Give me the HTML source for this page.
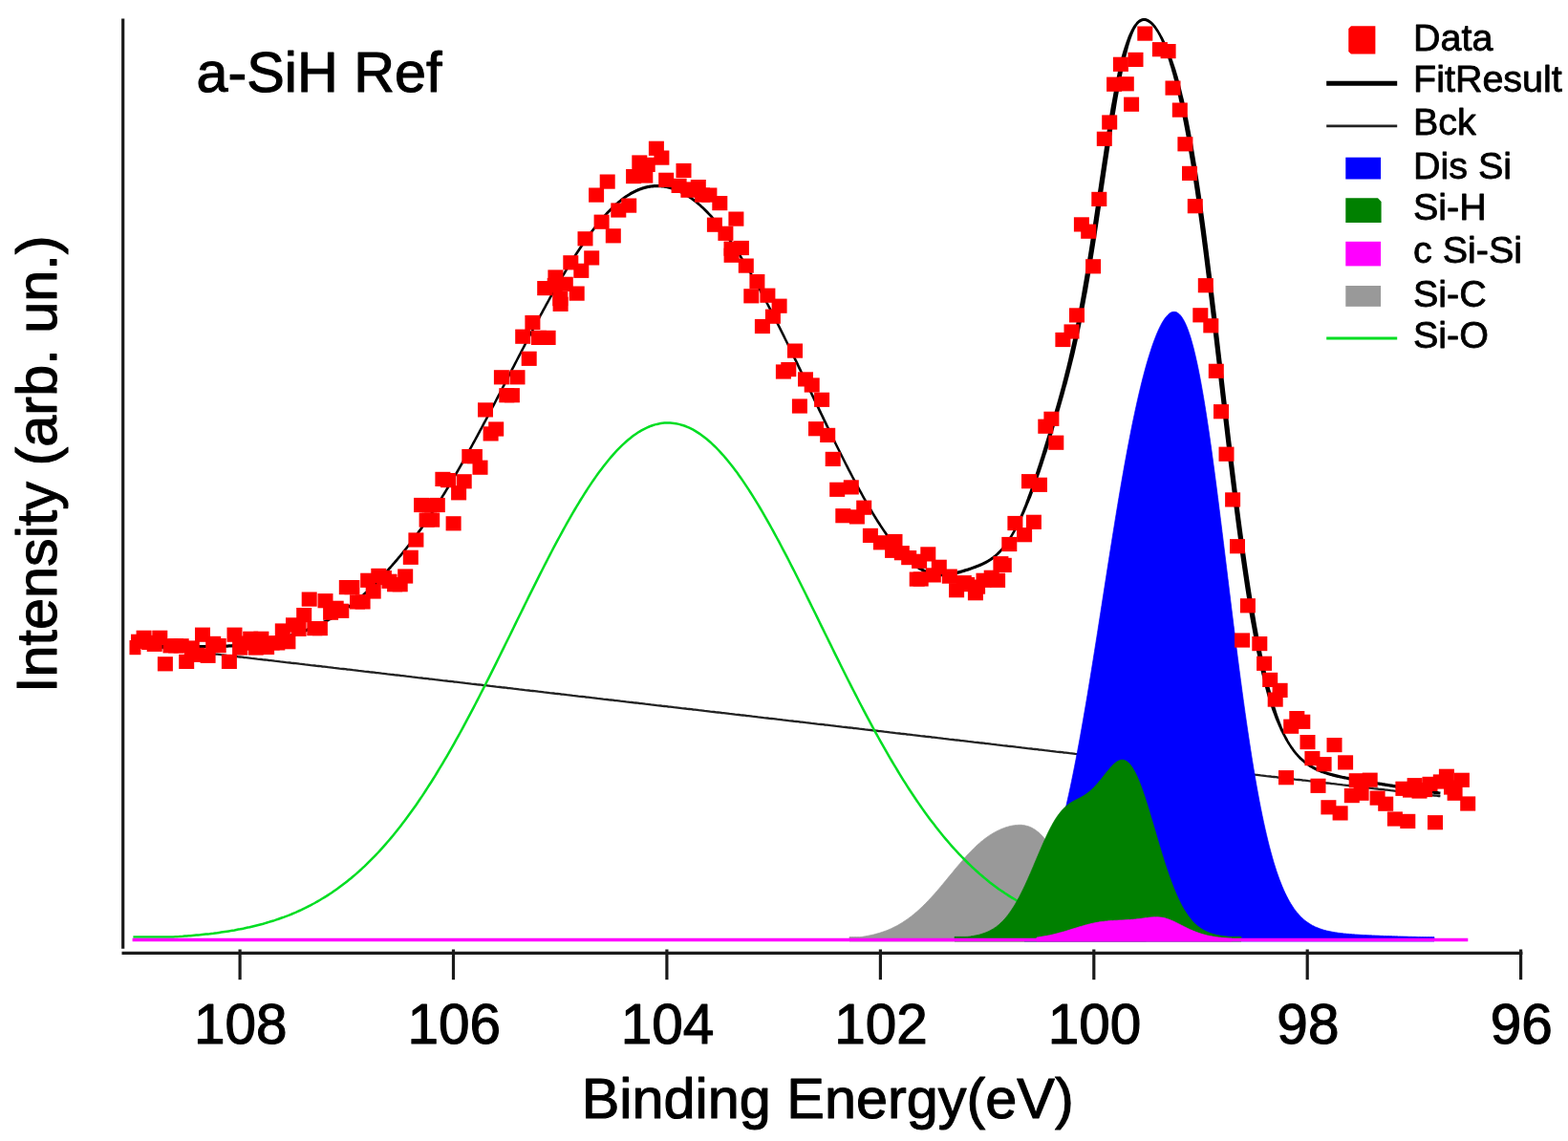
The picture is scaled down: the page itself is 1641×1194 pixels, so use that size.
<!DOCTYPE html>
<html lang="en"><head><meta charset="utf-8"><title>a-SiH Ref</title>
<style>
html,body{margin:0;padding:0;background:#fff;}
body{width:1641px;height:1194px;overflow:hidden;font-family:"Liberation Sans",Arial,sans-serif;}
svg{display:block;}
</style></head><body>
<svg width="1641" height="1194" viewBox="0 0 1641 1194">
<rect width="1641" height="1194" fill="#fff"/>
<path d="M139.4,674.5 L141.4,674.7 L143.4,675.0 L145.4,675.2 L147.4,675.4 L149.4,675.7 L151.4,675.9 L153.4,676.1 L155.4,676.4 L157.4,676.6 L159.4,676.8 L161.4,677.0 L163.4,677.3 L165.4,677.5 L167.4,677.7 L169.4,678.0 L171.4,678.2 L173.4,678.4 L175.4,678.7 L177.4,678.9 L179.4,679.1 L181.4,679.4 L183.4,679.6 L185.4,679.8 L187.4,680.1 L189.4,680.3 L191.4,680.5 L193.4,680.8 L195.4,681.0 L197.4,681.2 L199.4,681.5 L201.4,681.7 L203.4,681.9 L205.4,682.2 L207.4,682.4 L209.4,682.6 L211.4,682.8 L213.4,683.1 L215.4,683.3 L217.4,683.5 L219.4,683.8 L221.4,684.0 L223.4,684.2 L225.4,684.5 L227.4,684.7 L229.4,684.9 L231.4,685.2 L233.4,685.4 L235.4,685.6 L237.4,685.9 L239.4,686.1 L241.4,686.3 L243.4,686.6 L245.4,686.8 L247.4,687.0 L249.4,687.3 L251.4,687.5 L253.4,687.7 L255.4,688.0 L257.4,688.2 L259.4,688.4 L261.4,688.6 L263.4,688.9 L265.4,689.1 L267.4,689.3 L269.4,689.6 L271.4,689.8 L273.4,690.0 L275.4,690.3 L277.4,690.5 L279.4,690.7 L281.4,691.0 L283.4,691.2 L285.4,691.4 L287.4,691.7 L289.4,691.9 L291.4,692.1 L293.4,692.4 L295.4,692.6 L297.4,692.8 L299.4,693.1 L301.4,693.3 L303.4,693.5 L305.4,693.8 L307.4,694.0 L309.4,694.2 L311.4,694.4 L313.4,694.7 L315.4,694.9 L317.4,695.1 L319.4,695.4 L321.4,695.6 L323.4,695.8 L325.4,696.1 L327.4,696.3 L329.4,696.5 L331.4,696.8 L333.4,697.0 L335.4,697.2 L337.4,697.5 L339.4,697.7 L341.4,697.9 L343.4,698.2 L345.4,698.4 L347.4,698.6 L349.4,698.9 L351.4,699.1 L353.4,699.3 L355.4,699.6 L357.4,699.8 L359.4,700.0 L361.4,700.2 L363.4,700.5 L365.4,700.7 L367.4,700.9 L369.4,701.2 L371.4,701.4 L373.4,701.6 L375.4,701.9 L377.4,702.1 L379.4,702.3 L381.4,702.6 L383.4,702.8 L385.4,703.0 L387.4,703.3 L389.4,703.5 L391.4,703.7 L393.4,704.0 L395.4,704.2 L397.4,704.4 L399.4,704.7 L401.4,704.9 L403.4,705.1 L405.4,705.4 L407.4,705.6 L409.4,705.8 L411.4,706.0 L413.4,706.3 L415.4,706.5 L417.4,706.7 L419.4,707.0 L421.4,707.2 L423.4,707.4 L425.4,707.7 L427.4,707.9 L429.4,708.1 L431.4,708.4 L433.4,708.6 L435.4,708.8 L437.4,709.1 L439.4,709.3 L441.4,709.5 L443.4,709.8 L445.4,710.0 L447.4,710.2 L449.4,710.5 L451.4,710.7 L453.4,710.9 L455.4,711.2 L457.4,711.4 L459.4,711.6 L461.4,711.8 L463.4,712.1 L465.4,712.3 L467.4,712.5 L469.4,712.8 L471.4,713.0 L473.4,713.2 L475.4,713.5 L477.4,713.7 L479.4,713.9 L481.4,714.2 L483.4,714.4 L485.4,714.6 L487.4,714.9 L489.4,715.1 L491.4,715.3 L493.4,715.6 L495.4,715.8 L497.4,716.0 L499.4,716.3 L501.4,716.5 L503.4,716.7 L505.4,717.0 L507.4,717.2 L509.4,717.4 L511.4,717.6 L513.4,717.9 L515.4,718.1 L517.4,718.3 L519.4,718.6 L521.4,718.8 L523.4,719.0 L525.4,719.3 L527.4,719.5 L529.4,719.7 L531.4,720.0 L533.4,720.2 L535.4,720.4 L537.4,720.7 L539.4,720.9 L541.4,721.1 L543.4,721.4 L545.4,721.6 L547.4,721.8 L549.4,722.1 L551.4,722.3 L553.4,722.5 L555.4,722.8 L557.4,723.0 L559.4,723.2 L561.4,723.4 L563.4,723.7 L565.4,723.9 L567.4,724.1 L569.4,724.4 L571.4,724.6 L573.4,724.8 L575.4,725.1 L577.4,725.3 L579.4,725.5 L581.4,725.8 L583.4,726.0 L585.4,726.2 L587.4,726.5 L589.4,726.7 L591.4,726.9 L593.4,727.2 L595.4,727.4 L597.4,727.6 L599.4,727.9 L601.4,728.1 L603.4,728.3 L605.4,728.6 L607.4,728.8 L609.4,729.0 L611.4,729.2 L613.4,729.5 L615.4,729.7 L617.4,729.9 L619.4,730.2 L621.4,730.4 L623.4,730.6 L625.4,730.9 L627.4,731.1 L629.4,731.3 L631.4,731.6 L633.4,731.8 L635.4,732.0 L637.4,732.3 L639.4,732.5 L641.4,732.7 L643.4,733.0 L645.4,733.2 L647.4,733.4 L649.4,733.7 L651.4,733.9 L653.4,734.1 L655.4,734.4 L657.4,734.6 L659.4,734.8 L661.4,735.0 L663.4,735.3 L665.4,735.5 L667.4,735.7 L669.4,736.0 L671.4,736.2 L673.4,736.4 L675.4,736.7 L677.4,736.9 L679.4,737.1 L681.4,737.4 L683.4,737.6 L685.4,737.8 L687.4,738.1 L689.4,738.3 L691.4,738.5 L693.4,738.8 L695.4,739.0 L697.4,739.2 L699.4,739.5 L701.4,739.7 L703.4,739.9 L705.4,740.2 L707.4,740.4 L709.4,740.6 L711.4,740.8 L713.4,741.1 L715.4,741.3 L717.4,741.5 L719.4,741.8 L721.4,742.0 L723.4,742.2 L725.4,742.5 L727.4,742.7 L729.4,742.9 L731.4,743.2 L733.4,743.4 L735.4,743.6 L737.4,743.9 L739.4,744.1 L741.4,744.3 L743.4,744.6 L745.4,744.8 L747.4,745.0 L749.4,745.3 L751.4,745.5 L753.4,745.7 L755.4,746.0 L757.4,746.2 L759.4,746.4 L761.4,746.6 L763.4,746.9 L765.4,747.1 L767.4,747.3 L769.4,747.6 L771.4,747.8 L773.4,748.0 L775.4,748.3 L777.4,748.5 L779.4,748.7 L781.4,749.0 L783.4,749.2 L785.4,749.4 L787.4,749.7 L789.4,749.9 L791.4,750.1 L793.4,750.4 L795.4,750.6 L797.4,750.8 L799.4,751.1 L801.4,751.3 L803.4,751.5 L805.4,751.8 L807.4,752.0 L809.4,752.2 L811.4,752.4 L813.4,752.7 L815.4,752.9 L817.4,753.1 L819.4,753.4 L821.4,753.6 L823.4,753.8 L825.4,754.1 L827.4,754.3 L829.4,754.5 L831.4,754.8 L833.4,755.0 L835.4,755.2 L837.4,755.5 L839.4,755.7 L841.4,755.9 L843.4,756.2 L845.4,756.4 L847.4,756.6 L849.4,756.9 L851.4,757.1 L853.4,757.3 L855.4,757.6 L857.4,757.8 L859.4,758.0 L861.4,758.2 L863.4,758.5 L865.4,758.7 L867.4,758.9 L869.4,759.2 L871.4,759.4 L873.4,759.6 L875.4,759.9 L877.4,760.1 L879.4,760.3 L881.4,760.6 L883.4,760.8 L885.4,761.0 L887.4,761.3 L889.4,761.5 L891.4,761.7 L893.4,762.0 L895.4,762.2 L897.4,762.4 L899.4,762.7 L901.4,762.9 L903.4,763.1 L905.4,763.4 L907.4,763.6 L909.4,763.8 L911.4,764.0 L913.4,764.3 L915.4,764.5 L917.4,764.7 L919.4,765.0 L921.4,765.2 L923.4,765.4 L925.4,765.7 L927.4,765.9 L929.4,766.1 L931.4,766.4 L933.4,766.6 L935.4,766.8 L937.4,767.1 L939.4,767.3 L941.4,767.5 L943.4,767.8 L945.4,768.0 L947.4,768.2 L949.4,768.5 L951.4,768.7 L953.4,768.9 L955.4,769.2 L957.4,769.4 L959.4,769.6 L961.4,769.8 L963.4,770.1 L965.4,770.3 L967.4,770.5 L969.4,770.8 L971.4,771.0 L973.4,771.2 L975.4,771.5 L977.4,771.7 L979.4,771.9 L981.4,772.2 L983.4,772.4 L985.4,772.6 L987.4,772.9 L989.4,773.1 L991.4,773.3 L993.4,773.6 L995.4,773.8 L997.4,774.0 L999.4,774.3 L1001.4,774.5 L1003.4,774.7 L1005.4,775.0 L1007.4,775.2 L1009.4,775.4 L1011.4,775.6 L1013.4,775.9 L1015.4,776.1 L1017.4,776.3 L1019.4,776.6 L1021.4,776.8 L1023.4,777.0 L1025.4,777.3 L1027.4,777.5 L1029.4,777.7 L1031.4,778.0 L1033.4,778.2 L1035.4,778.4 L1037.4,778.7 L1039.4,778.9 L1041.4,779.1 L1043.4,779.4 L1045.4,779.6 L1047.4,779.8 L1049.4,780.1 L1051.4,780.3 L1053.4,780.5 L1055.4,780.8 L1057.4,781.0 L1059.4,781.2 L1061.4,781.4 L1063.4,781.7 L1065.4,781.9 L1067.4,782.1 L1069.4,782.4 L1071.4,782.6 L1073.4,782.8 L1075.4,783.1 L1077.4,783.3 L1079.4,783.5 L1081.4,783.8 L1083.4,784.0 L1085.4,784.2 L1087.4,784.5 L1089.4,784.7 L1091.4,784.9 L1093.4,785.2 L1095.4,785.4 L1097.4,785.6 L1099.4,785.9 L1101.4,786.1 L1103.4,786.3 L1105.4,786.6 L1107.4,786.8 L1109.4,787.0 L1111.4,787.2 L1113.4,787.5 L1115.4,787.7 L1117.4,787.9 L1119.4,788.2 L1121.4,788.4 L1123.4,788.6 L1125.4,788.9 L1127.4,789.1 L1129.4,789.3 L1131.4,789.6 L1133.4,789.8 L1135.4,790.0 L1137.4,790.3 L1139.4,790.5 L1141.4,790.7 L1143.4,791.0 L1145.4,791.2 L1147.4,791.4 L1149.4,791.7 L1151.4,791.9 L1153.4,792.1 L1155.4,792.4 L1157.4,792.6 L1159.4,792.8 L1161.4,793.0 L1163.4,793.3 L1165.4,793.5 L1167.4,793.7 L1169.4,794.0 L1171.4,794.2 L1173.4,794.4 L1175.4,794.7 L1177.4,794.9 L1179.4,795.1 L1181.4,795.4 L1183.4,795.6 L1185.4,795.8 L1187.4,796.1 L1189.4,796.3 L1191.4,796.5 L1193.4,796.8 L1195.4,797.0 L1197.4,797.2 L1199.4,797.5 L1201.4,797.7 L1203.4,797.9 L1205.4,798.2 L1207.4,798.4 L1209.4,798.6 L1211.4,798.8 L1213.4,799.1 L1215.4,799.3 L1217.4,799.5 L1219.4,799.8 L1221.4,800.0 L1223.4,800.2 L1225.4,800.5 L1227.4,800.7 L1229.4,800.9 L1231.4,801.2 L1233.4,801.4 L1235.4,801.6 L1237.4,801.9 L1239.4,802.1 L1241.4,802.3 L1243.4,802.6 L1245.4,802.8 L1247.4,803.0 L1249.4,803.3 L1251.4,803.5 L1253.4,803.7 L1255.4,804.0 L1257.4,804.2 L1259.4,804.4 L1261.4,804.6 L1263.4,804.9 L1265.4,805.1 L1267.4,805.3 L1269.4,805.6 L1271.4,805.8 L1273.4,806.0 L1275.4,806.3 L1277.4,806.5 L1279.4,806.7 L1281.4,807.0 L1283.4,807.2 L1285.4,807.4 L1287.4,807.7 L1289.4,807.9 L1291.4,808.1 L1293.4,808.4 L1295.4,808.6 L1297.4,808.8 L1299.4,809.1 L1301.4,809.3 L1303.4,809.5 L1305.4,809.8 L1307.4,810.0 L1309.4,810.2 L1311.4,810.4 L1313.4,810.7 L1315.4,810.9 L1317.4,811.1 L1319.4,811.4 L1321.4,811.6 L1323.4,811.8 L1325.4,812.1 L1327.4,812.3 L1329.4,812.5 L1331.4,812.8 L1333.4,813.0 L1335.4,813.2 L1337.4,813.5 L1339.4,813.7 L1341.4,813.9 L1343.4,814.2 L1345.4,814.4 L1347.4,814.6 L1349.4,814.9 L1351.4,815.1 L1353.4,815.3 L1355.4,815.6 L1357.4,815.8 L1359.4,816.0 L1361.4,816.2 L1363.4,816.5 L1365.4,816.7 L1367.4,816.9 L1369.4,817.2 L1371.4,817.4 L1373.4,817.6 L1375.4,817.9 L1377.4,818.1 L1379.4,818.3 L1381.4,818.6 L1383.4,818.8 L1385.4,819.0 L1387.4,819.3 L1389.4,819.5 L1391.4,819.7 L1393.4,820.0 L1395.4,820.2 L1397.4,820.4 L1399.4,820.7 L1401.4,820.9 L1403.4,821.1 L1405.4,821.4 L1407.4,821.6 L1409.4,821.8 L1411.4,822.0 L1413.4,822.3 L1415.4,822.5 L1417.4,822.7 L1419.4,823.0 L1421.4,823.2 L1423.4,823.4 L1425.4,823.7 L1427.4,823.9 L1429.4,824.1 L1431.4,824.4 L1433.4,824.6 L1435.4,824.8 L1437.4,825.1 L1439.4,825.3 L1441.4,825.5 L1443.4,825.8 L1445.4,826.0 L1447.4,826.2 L1449.4,826.5 L1451.4,826.7 L1453.4,826.9 L1455.4,827.2 L1457.4,827.4 L1459.4,827.6 L1461.4,827.8 L1463.4,828.1 L1465.4,828.3 L1467.4,828.5 L1469.4,828.8 L1471.4,829.0 L1473.4,829.2 L1475.4,829.5 L1477.4,829.7 L1479.4,829.9 L1481.4,830.2 L1483.4,830.4 L1485.4,830.6 L1487.4,830.9 L1489.4,831.1 L1491.4,831.3 L1493.4,831.6 L1495.4,831.8 L1497.4,832.0 L1499.4,832.3 L1501.4,832.5 L1503.4,832.7 L1505.4,833.0 L1507.4,833.2" fill="none" stroke="#222" stroke-width="2.3"/>
<path d="M889.0,980.6 L890.5,980.6 L892.0,980.6 L893.5,980.6 L895.0,980.6 L896.5,980.6 L898.0,980.6 L899.5,980.6 L901.0,980.5 L902.5,980.3 L904.0,980.0 L905.5,979.8 L907.0,979.5 L908.5,979.2 L910.0,978.9 L911.5,978.6 L913.0,978.3 L914.5,977.9 L916.0,977.5 L917.5,977.1 L919.0,976.7 L920.5,976.3 L922.0,975.8 L923.5,975.3 L925.0,974.8 L926.5,974.2 L928.0,973.7 L929.5,973.1 L931.0,972.4 L932.5,971.8 L934.0,971.1 L935.5,970.3 L937.0,969.6 L938.5,968.8 L940.0,968.0 L941.5,967.1 L943.0,966.2 L944.5,965.3 L946.0,964.3 L947.5,963.3 L949.0,962.3 L950.5,961.2 L952.0,960.1 L953.5,959.0 L955.0,957.8 L956.5,956.6 L958.0,955.3 L959.5,954.0 L961.0,952.7 L962.5,951.3 L964.0,949.9 L965.5,948.5 L967.0,947.0 L968.5,945.5 L970.0,944.0 L971.5,942.4 L973.0,940.8 L974.5,939.2 L976.0,937.6 L977.5,935.9 L979.0,934.2 L980.5,932.5 L982.0,930.7 L983.5,929.0 L985.0,927.2 L986.5,925.4 L988.0,923.6 L989.5,921.8 L991.0,920.0 L992.5,918.1 L994.0,916.3 L995.5,914.5 L997.0,912.7 L998.5,910.8 L1000.0,909.0 L1001.5,907.2 L1003.0,905.4 L1004.5,903.7 L1006.0,901.9 L1007.5,900.2 L1009.0,898.5 L1010.5,896.8 L1012.0,895.1 L1013.5,893.5 L1015.0,891.9 L1016.5,890.4 L1018.0,888.9 L1019.5,887.4 L1021.0,885.9 L1022.5,884.5 L1024.0,883.2 L1025.5,881.9 L1027.0,880.6 L1028.5,879.4 L1030.0,878.2 L1031.5,877.1 L1033.0,876.0 L1034.5,874.9 L1036.0,873.9 L1037.5,873.0 L1039.0,872.1 L1040.5,871.2 L1042.0,870.4 L1043.5,869.6 L1045.0,868.9 L1046.5,868.2 L1048.0,867.5 L1049.5,866.9 L1051.0,866.4 L1052.5,865.8 L1054.0,865.4 L1055.5,864.9 L1057.0,864.5 L1058.5,864.2 L1060.0,863.9 L1061.5,863.7 L1063.0,863.5 L1064.5,863.4 L1066.0,863.3 L1067.5,863.3 L1069.0,863.3 L1070.5,863.5 L1072.0,863.7 L1073.5,864.0 L1075.0,864.4 L1076.5,864.8 L1078.0,865.4 L1079.5,866.1 L1081.0,866.9 L1082.5,867.7 L1084.0,868.8 L1085.5,869.9 L1087.0,871.1 L1088.5,872.5 L1090.0,874.0 L1091.5,875.6 L1093.0,877.4 L1094.5,879.2 L1096.0,881.2 L1097.5,883.3 L1099.0,885.5 L1100.5,887.8 L1102.0,890.2 L1103.5,892.6 L1105.0,895.2 L1106.5,897.8 L1108.0,900.4 L1109.5,903.1 L1111.0,905.7 L1112.5,908.4 L1114.0,911.2 L1115.5,913.9 L1117.0,916.6 L1118.5,919.2 L1120.0,921.9 L1121.5,924.5 L1123.0,927.1 L1124.5,929.6 L1126.0,932.0 L1127.5,934.4 L1129.0,936.8 L1130.5,939.0 L1132.0,941.2 L1133.5,943.4 L1135.0,945.4 L1136.5,947.4 L1138.0,949.3 L1139.5,951.1 L1141.0,952.9 L1142.5,954.5 L1144.0,956.1 L1145.5,957.7 L1147.0,959.1 L1148.5,960.5 L1150.0,961.8 L1151.5,963.1 L1153.0,964.3 L1154.5,965.4 L1156.0,966.4 L1157.5,967.4 L1159.0,968.4 L1160.5,969.3 L1162.0,970.2 L1163.5,971.0 L1165.0,971.7 L1166.5,972.4 L1168.0,973.1 L1169.5,973.8 L1171.0,974.4 L1172.5,974.9 L1174.0,975.5 L1175.5,976.0 L1177.0,976.4 L1178.5,976.9 L1180.0,977.3 L1181.5,977.7 L1183.0,978.1 L1184.5,978.4 L1186.0,978.8 L1187.5,979.1 L1189.0,979.4 L1190.5,979.6 L1192.0,979.9 L1193.5,980.1 L1195.0,980.4 L1196.5,980.6 L1198.0,980.6 L1199.5,980.6 L1199.5,985.0 L889.0,985.0 Z" fill="#999999" stroke="#999999" stroke-width="0.7" stroke-linejoin="round"/>
<path d="M139.4,980.4 L141.4,980.4 L143.4,980.4 L145.4,980.4 L147.4,980.4 L149.4,980.4 L151.4,980.4 L153.4,980.4 L155.4,980.4 L157.4,980.4 L159.4,980.4 L161.4,980.4 L163.4,980.4 L165.4,980.4 L167.4,980.4 L169.4,980.4 L171.4,980.4 L173.4,980.4 L175.4,980.4 L177.4,980.4 L179.4,980.4 L181.4,980.4 L183.4,980.3 L185.4,980.2 L187.4,980.1 L189.4,979.9 L191.4,979.8 L193.4,979.6 L195.4,979.5 L197.4,979.3 L199.4,979.2 L201.4,979.0 L203.4,978.8 L205.4,978.6 L207.4,978.4 L209.4,978.3 L211.4,978.0 L213.4,977.8 L215.4,977.6 L217.4,977.4 L219.4,977.2 L221.4,976.9 L223.4,976.7 L225.4,976.4 L227.4,976.2 L229.4,975.9 L231.4,975.6 L233.4,975.3 L235.4,975.0 L237.4,974.7 L239.4,974.4 L241.4,974.1 L243.4,973.7 L245.4,973.4 L247.4,973.0 L249.4,972.6 L251.4,972.3 L253.4,971.9 L255.4,971.5 L257.4,971.0 L259.4,970.6 L261.4,970.2 L263.4,969.7 L265.4,969.2 L267.4,968.7 L269.4,968.2 L271.4,967.7 L273.4,967.2 L275.4,966.7 L277.4,966.1 L279.4,965.5 L281.4,964.9 L283.4,964.3 L285.4,963.7 L287.4,963.1 L289.4,962.4 L291.4,961.7 L293.4,961.0 L295.4,960.3 L297.4,959.6 L299.4,958.8 L301.4,958.1 L303.4,957.3 L305.4,956.5 L307.4,955.6 L309.4,954.8 L311.4,953.9 L313.4,953.0 L315.4,952.1 L317.4,951.1 L319.4,950.2 L321.4,949.2 L323.4,948.1 L325.4,947.1 L327.4,946.0 L329.4,945.0 L331.4,943.8 L333.4,942.7 L335.4,941.5 L337.4,940.3 L339.4,939.1 L341.4,937.9 L343.4,936.6 L345.4,935.3 L347.4,934.0 L349.4,932.6 L351.4,931.2 L353.4,929.8 L355.4,928.3 L357.4,926.8 L359.4,925.3 L361.4,923.8 L363.4,922.2 L365.4,920.6 L367.4,919.0 L369.4,917.3 L371.4,915.6 L373.4,913.9 L375.4,912.1 L377.4,910.3 L379.4,908.4 L381.4,906.6 L383.4,904.7 L385.4,902.7 L387.4,900.7 L389.4,898.7 L391.4,896.7 L393.4,894.6 L395.4,892.5 L397.4,890.3 L399.4,888.1 L401.4,885.9 L403.4,883.6 L405.4,881.3 L407.4,879.0 L409.4,876.6 L411.4,874.2 L413.4,871.8 L415.4,869.3 L417.4,866.8 L419.4,864.2 L421.4,861.6 L423.4,859.0 L425.4,856.3 L427.4,853.6 L429.4,850.8 L431.4,848.0 L433.4,845.2 L435.4,842.4 L437.4,839.5 L439.4,836.5 L441.4,833.6 L443.4,830.6 L445.4,827.5 L447.4,824.4 L449.4,821.3 L451.4,818.2 L453.4,815.0 L455.4,811.8 L457.4,808.5 L459.4,805.2 L461.4,801.9 L463.4,798.6 L465.4,795.2 L467.4,791.8 L469.4,788.3 L471.4,784.8 L473.4,781.3 L475.4,777.8 L477.4,774.2 L479.4,770.6 L481.4,767.0 L483.4,763.3 L485.4,759.6 L487.4,755.9 L489.4,752.2 L491.4,748.4 L493.4,744.6 L495.4,740.8 L497.4,737.0 L499.4,733.1 L501.4,729.2 L503.4,725.3 L505.4,721.4 L507.4,717.5 L509.4,713.5 L511.4,709.6 L513.4,705.6 L515.4,701.6 L517.4,697.6 L519.4,693.6 L521.4,689.5 L523.4,685.5 L525.4,681.4 L527.4,677.4 L529.4,673.3 L531.4,669.2 L533.4,665.2 L535.4,661.1 L537.4,657.0 L539.4,652.9 L541.4,648.8 L543.4,644.8 L545.4,640.7 L547.4,636.6 L549.4,632.5 L551.4,628.5 L553.4,624.4 L555.4,620.4 L557.4,616.4 L559.4,612.4 L561.4,608.4 L563.4,604.4 L565.4,600.4 L567.4,596.5 L569.4,592.5 L571.4,588.6 L573.4,584.7 L575.4,580.9 L577.4,577.0 L579.4,573.2 L581.4,569.4 L583.4,565.7 L585.4,562.0 L587.4,558.3 L589.4,554.6 L591.4,551.0 L593.4,547.4 L595.4,543.9 L597.4,540.4 L599.4,536.9 L601.4,533.5 L603.4,530.1 L605.4,526.8 L607.4,523.5 L609.4,520.3 L611.4,517.1 L613.4,514.0 L615.4,510.9 L617.4,507.9 L619.4,504.9 L621.4,502.0 L623.4,499.1 L625.4,496.3 L627.4,493.6 L629.4,490.9 L631.4,488.3 L633.4,485.7 L635.4,483.2 L637.4,480.8 L639.4,478.4 L641.4,476.1 L643.4,473.9 L645.4,471.7 L647.4,469.6 L649.4,467.6 L651.4,465.7 L653.4,463.8 L655.4,462.0 L657.4,460.3 L659.4,458.7 L661.4,457.1 L663.4,455.6 L665.4,454.2 L667.4,452.8 L669.4,451.6 L671.4,450.4 L673.4,449.3 L675.4,448.3 L677.4,447.4 L679.4,446.5 L681.4,445.7 L683.4,445.0 L685.4,444.4 L687.4,443.9 L689.4,443.5 L691.4,443.1 L693.4,442.8 L695.4,442.6 L697.4,442.5 L699.4,442.5 L701.4,442.6 L703.4,442.7 L705.4,442.9 L707.4,443.2 L709.4,443.6 L711.4,444.1 L713.4,444.7 L715.4,445.3 L717.4,446.0 L719.4,446.8 L721.4,447.7 L723.4,448.7 L725.4,449.7 L727.4,450.9 L729.4,452.1 L731.4,453.4 L733.4,454.7 L735.4,456.2 L737.4,457.7 L739.4,459.3 L741.4,461.0 L743.4,462.7 L745.4,464.6 L747.4,466.5 L749.4,468.4 L751.4,470.5 L753.4,472.6 L755.4,474.8 L757.4,477.0 L759.4,479.4 L761.4,481.7 L763.4,484.2 L765.4,486.7 L767.4,489.3 L769.4,491.9 L771.4,494.6 L773.4,497.4 L775.4,500.2 L777.4,503.1 L779.4,506.1 L781.4,509.1 L783.4,512.1 L785.4,515.2 L787.4,518.4 L789.4,521.6 L791.4,524.8 L793.4,528.1 L795.4,531.5 L797.4,534.9 L799.4,538.3 L801.4,541.8 L803.4,545.3 L805.4,548.9 L807.4,552.5 L809.4,556.1 L811.4,559.8 L813.4,563.5 L815.4,567.2 L817.4,571.0 L819.4,574.8 L821.4,578.6 L823.4,582.4 L825.4,586.3 L827.4,590.2 L829.4,594.1 L831.4,598.0 L833.4,602.0 L835.4,606.0 L837.4,610.0 L839.4,614.0 L841.4,618.0 L843.4,622.0 L845.4,626.1 L847.4,630.1 L849.4,634.2 L851.4,638.2 L853.4,642.3 L855.4,646.4 L857.4,650.5 L859.4,654.6 L861.4,658.6 L863.4,662.7 L865.4,666.8 L867.4,670.9 L869.4,674.9 L871.4,679.0 L873.4,683.1 L875.4,687.1 L877.4,691.1 L879.4,695.2 L881.4,699.2 L883.4,703.2 L885.4,707.2 L887.4,711.2 L889.4,715.1 L891.4,719.1 L893.4,723.0 L895.4,726.9 L897.4,730.8 L899.4,734.7 L901.4,738.5 L903.4,742.3 L905.4,746.1 L907.4,749.9 L909.4,753.7 L911.4,757.4 L913.4,761.1 L915.4,764.8 L917.4,768.4 L919.4,772.0 L921.4,775.6 L923.4,779.2 L925.4,782.7 L927.4,786.2 L929.4,789.7 L931.4,793.1 L933.4,796.5 L935.4,799.9 L937.4,803.2 L939.4,806.5 L941.4,809.8 L943.4,813.1 L945.4,816.3 L947.4,819.4 L949.4,822.6 L951.4,825.7 L953.4,828.7 L955.4,831.8 L957.4,834.8 L959.4,837.7 L961.4,840.6 L963.4,843.5 L965.4,846.4 L967.4,849.2 L969.4,851.9 L971.4,854.7 L973.4,857.4 L975.4,860.0 L977.4,862.6 L979.4,865.2 L981.4,867.8 L983.4,870.3 L985.4,872.8 L987.4,875.2 L989.4,877.6 L991.4,879.9 L993.4,882.3 L995.4,884.6 L997.4,886.8 L999.4,889.0 L1001.4,891.2 L1003.4,893.3 L1005.4,895.4 L1007.4,897.5 L1009.4,899.5 L1011.4,901.5 L1013.4,903.5 L1015.4,905.4 L1017.4,907.3 L1019.4,909.2 L1021.4,911.0 L1023.4,912.8 L1025.4,914.6 L1027.4,916.3 L1029.4,918.0 L1031.4,919.6 L1033.4,921.3 L1035.4,922.9 L1037.4,924.4 L1039.4,925.9 L1041.4,927.4 L1043.4,928.9 L1045.4,930.4 L1047.4,931.8 L1049.4,933.1 L1051.4,934.5 L1053.4,935.8 L1055.4,937.1 L1057.4,938.4 L1059.4,939.6 L1061.4,940.8 L1063.4,942.0 L1065.4,943.2 L1067.4,944.3 L1069.4,945.4 L1071.4,946.5 L1073.4,947.5 L1075.4,948.6 L1077.4,949.6 L1079.4,950.5 L1081.4,951.5 L1083.4,952.4 L1085.4,953.3 L1087.4,954.2 L1089.4,955.1 L1091.4,956.0 L1093.4,956.8 L1095.4,957.6 L1097.4,958.4 L1099.4,959.1" fill="none" stroke="#00dd22" stroke-width="2.5"/>
<path d="M1072.0,954.9 L1073.5,953.2 L1075.0,951.4 L1076.5,949.4 L1078.0,947.4 L1079.5,945.2 L1081.0,942.9 L1082.5,940.5 L1084.0,937.9 L1085.5,935.2 L1087.0,932.4 L1088.5,929.4 L1090.0,926.2 L1091.5,922.9 L1093.0,919.4 L1094.5,915.7 L1096.0,911.9 L1097.5,907.8 L1099.0,903.6 L1100.5,899.3 L1102.0,894.7 L1103.5,889.9 L1105.0,885.0 L1106.5,879.8 L1108.0,874.4 L1109.5,868.9 L1111.0,863.1 L1112.5,857.2 L1114.0,851.0 L1115.5,844.7 L1117.0,838.1 L1118.5,831.4 L1120.0,824.4 L1121.5,817.3 L1123.0,810.0 L1124.5,802.4 L1126.0,794.8 L1127.5,786.9 L1129.0,778.9 L1130.5,770.7 L1132.0,762.3 L1133.5,753.8 L1135.0,745.1 L1136.5,736.4 L1138.0,727.5 L1139.5,718.4 L1141.0,709.3 L1142.5,700.1 L1144.0,690.7 L1145.5,681.3 L1147.0,671.9 L1148.5,662.4 L1150.0,652.8 L1151.5,643.2 L1153.0,633.6 L1154.5,623.9 L1156.0,614.3 L1157.5,604.7 L1159.0,595.1 L1160.5,585.5 L1162.0,576.0 L1163.5,566.6 L1165.0,557.2 L1166.5,547.9 L1168.0,538.7 L1169.5,529.6 L1171.0,520.6 L1172.5,511.8 L1174.0,503.1 L1175.5,494.5 L1177.0,486.1 L1178.5,477.9 L1180.0,469.8 L1181.5,461.9 L1183.0,454.2 L1184.5,446.6 L1186.0,439.3 L1187.5,432.2 L1189.0,425.3 L1190.5,418.5 L1192.0,412.0 L1193.5,405.7 L1195.0,399.6 L1196.5,393.7 L1198.0,388.1 L1199.5,382.6 L1201.0,377.4 L1202.5,372.4 L1204.0,367.7 L1205.5,363.1 L1207.0,358.8 L1208.5,354.8 L1210.0,350.9 L1211.5,347.3 L1213.0,344.0 L1214.5,340.9 L1216.0,338.1 L1217.5,335.6 L1219.0,333.3 L1220.5,331.4 L1222.0,329.7 L1223.5,328.3 L1225.0,327.3 L1226.5,326.6 L1228.0,326.3 L1229.5,326.3 L1231.0,326.6 L1232.5,327.4 L1234.0,328.5 L1235.5,330.1 L1237.0,332.1 L1238.5,334.5 L1240.0,337.3 L1241.5,340.6 L1243.0,344.3 L1244.5,348.5 L1246.0,353.1 L1247.5,358.3 L1249.0,363.8 L1250.5,369.9 L1252.0,376.4 L1253.5,383.3 L1255.0,390.7 L1256.5,398.6 L1258.0,406.9 L1259.5,415.5 L1261.0,424.6 L1262.5,434.1 L1264.0,443.9 L1265.5,454.0 L1267.0,464.5 L1268.5,475.2 L1270.0,486.3 L1271.5,497.5 L1273.0,509.0 L1274.5,520.7 L1276.0,532.5 L1277.5,544.5 L1279.0,556.6 L1280.5,568.7 L1282.0,581.0 L1283.5,593.2 L1285.0,605.5 L1286.5,617.8 L1288.0,630.0 L1289.5,642.1 L1291.0,654.2 L1292.5,666.2 L1294.0,678.0 L1295.5,689.7 L1297.0,701.2 L1298.5,712.6 L1300.0,723.7 L1301.5,734.7 L1303.0,745.4 L1304.5,755.9 L1306.0,766.1 L1307.5,776.1 L1309.0,785.8 L1310.5,795.3 L1312.0,804.4 L1313.5,813.3 L1315.0,821.9 L1316.5,830.2 L1318.0,838.2 L1319.5,845.9 L1321.0,853.3 L1322.5,860.4 L1324.0,867.2 L1325.5,873.7 L1327.0,880.0 L1328.5,885.9 L1330.0,891.6 L1331.5,897.0 L1333.0,902.2 L1334.5,907.0 L1336.0,911.7 L1337.5,916.1 L1339.0,920.2 L1340.5,924.1 L1342.0,927.8 L1343.5,931.3 L1345.0,934.6 L1346.5,937.6 L1348.0,940.5 L1349.5,943.2 L1351.0,945.8 L1352.5,948.1 L1354.0,950.4 L1355.5,952.4 L1357.0,954.4 L1358.5,956.1 L1360.0,957.8 L1361.5,959.4 L1363.0,960.8 L1364.5,962.2 L1366.0,963.4 L1367.5,964.5 L1369.0,965.6 L1370.5,966.6 L1372.0,967.5 L1373.5,968.4 L1375.0,969.1 L1376.5,969.9 L1378.0,970.5 L1379.5,971.1 L1381.0,971.7 L1382.5,972.2 L1384.0,972.7 L1385.5,973.2 L1387.0,973.6 L1388.5,974.0 L1390.0,974.3 L1391.5,974.6 L1393.0,974.9 L1394.5,975.2 L1396.0,975.5 L1397.5,975.7 L1399.0,975.9 L1400.5,976.2 L1402.0,976.4 L1403.5,976.5 L1405.0,976.7 L1406.5,976.9 L1408.0,977.0 L1409.5,977.2 L1411.0,977.3 L1412.5,977.4 L1414.0,977.6 L1415.5,977.7 L1417.0,977.8 L1418.5,977.9 L1420.0,978.0 L1421.5,978.1 L1423.0,978.2 L1424.5,978.3 L1426.0,978.4 L1427.5,978.4 L1429.0,978.5 L1430.5,978.6 L1432.0,978.7 L1433.5,978.7 L1435.0,978.8 L1436.5,978.9 L1438.0,978.9 L1439.5,979.0 L1441.0,979.1 L1442.5,979.1 L1444.0,979.2 L1445.5,979.3 L1447.0,979.3 L1448.5,979.4 L1450.0,979.4 L1451.5,979.5 L1453.0,979.5 L1454.5,979.6 L1456.0,979.6 L1457.5,979.7 L1459.0,979.7 L1460.5,979.8 L1462.0,979.8 L1463.5,979.9 L1465.0,979.9 L1466.5,979.9 L1468.0,980.0 L1469.5,980.0 L1471.0,980.1 L1472.5,980.1 L1474.0,980.2 L1475.5,980.2 L1477.0,980.2 L1478.5,980.3 L1480.0,980.3 L1481.5,980.3 L1483.0,980.4 L1484.5,980.4 L1486.0,980.4 L1487.5,980.5 L1489.0,980.5 L1490.5,980.5 L1492.0,980.6 L1493.5,980.6 L1495.0,980.6 L1496.5,980.6 L1498.0,980.6 L1499.5,980.6 L1501.0,980.6 L1501.0,985.0 L1072.0,985.0 Z" fill="#0000ff" stroke="#0000ff" stroke-width="0.7" stroke-linejoin="round"/>
<path d="M999.0,980.3 L1000.5,980.3 L1002.0,980.3 L1003.5,980.3 L1005.0,980.3 L1006.5,980.3 L1008.0,980.3 L1009.5,980.3 L1011.0,980.3 L1012.5,980.2 L1014.0,980.1 L1015.5,979.9 L1017.0,979.6 L1018.5,979.4 L1020.0,979.1 L1021.5,978.8 L1023.0,978.5 L1024.5,978.2 L1026.0,977.8 L1027.5,977.3 L1029.0,976.8 L1030.5,976.3 L1032.0,975.7 L1033.5,975.1 L1035.0,974.4 L1036.5,973.6 L1038.0,972.8 L1039.5,971.9 L1041.0,970.9 L1042.5,969.9 L1044.0,968.7 L1045.5,967.5 L1047.0,966.1 L1048.5,964.7 L1050.0,963.2 L1051.5,961.5 L1053.0,959.8 L1054.5,957.9 L1056.0,955.9 L1057.5,953.8 L1059.0,951.6 L1060.5,949.3 L1062.0,946.9 L1063.5,944.3 L1065.0,941.6 L1066.5,938.9 L1068.0,936.0 L1069.5,933.0 L1071.0,929.9 L1072.5,926.8 L1074.0,923.5 L1075.5,920.2 L1077.0,916.8 L1078.5,913.4 L1080.0,909.9 L1081.5,906.4 L1083.0,902.8 L1084.5,899.3 L1086.0,895.7 L1087.5,892.2 L1089.0,888.7 L1090.5,885.2 L1092.0,881.8 L1093.5,878.5 L1095.0,875.2 L1096.5,872.1 L1098.0,869.0 L1099.5,866.1 L1101.0,863.3 L1102.5,860.6 L1104.0,858.1 L1105.5,855.7 L1107.0,853.5 L1108.5,851.5 L1110.0,849.6 L1111.5,847.8 L1113.0,846.2 L1114.5,844.8 L1116.0,843.4 L1117.5,842.2 L1119.0,841.1 L1120.5,840.1 L1122.0,839.2 L1123.5,838.3 L1125.0,837.5 L1126.5,836.7 L1128.0,836.0 L1129.5,835.2 L1131.0,834.4 L1132.5,833.5 L1134.0,832.7 L1135.5,831.7 L1137.0,830.7 L1138.5,829.6 L1140.0,828.4 L1141.5,827.1 L1143.0,825.8 L1144.5,824.3 L1146.0,822.8 L1147.5,821.1 L1149.0,819.4 L1150.5,817.6 L1152.0,815.8 L1153.5,813.9 L1155.0,812.0 L1156.5,810.1 L1158.0,808.2 L1159.5,806.4 L1161.0,804.6 L1162.5,802.9 L1164.0,801.2 L1165.5,799.8 L1167.0,798.5 L1168.5,797.3 L1170.0,796.4 L1171.5,795.7 L1173.0,795.3 L1174.5,795.2 L1176.0,795.3 L1177.5,795.8 L1179.0,796.6 L1180.5,797.7 L1182.0,799.1 L1183.5,800.9 L1185.0,803.0 L1186.5,805.5 L1188.0,808.2 L1189.5,811.3 L1191.0,814.6 L1192.5,818.3 L1194.0,822.1 L1195.5,826.2 L1197.0,830.6 L1198.5,835.1 L1200.0,839.7 L1201.5,844.5 L1203.0,849.4 L1204.5,854.4 L1206.0,859.4 L1207.5,864.5 L1209.0,869.6 L1210.5,874.8 L1212.0,879.8 L1213.5,884.9 L1215.0,889.8 L1216.5,894.7 L1218.0,899.5 L1219.5,904.2 L1221.0,908.8 L1222.5,913.2 L1224.0,917.5 L1225.5,921.6 L1227.0,925.6 L1228.5,929.4 L1230.0,933.1 L1231.5,936.6 L1233.0,939.9 L1234.5,943.0 L1236.0,946.0 L1237.5,948.8 L1239.0,951.4 L1240.5,953.8 L1242.0,956.1 L1243.5,958.3 L1245.0,960.3 L1246.5,962.1 L1248.0,963.9 L1249.5,965.4 L1251.0,966.9 L1252.5,968.3 L1254.0,969.5 L1255.5,970.6 L1257.0,971.7 L1258.5,972.6 L1260.0,973.5 L1261.5,974.3 L1263.0,975.0 L1264.5,975.6 L1266.0,976.2 L1267.5,976.7 L1269.0,977.2 L1270.5,977.6 L1272.0,978.0 L1273.5,978.4 L1275.0,978.7 L1276.5,979.0 L1278.0,979.2 L1279.5,979.4 L1281.0,979.7 L1282.5,979.8 L1284.0,980.0 L1285.5,980.2 L1287.0,980.3 L1288.5,980.3 L1290.0,980.3 L1291.5,980.3 L1293.0,980.3 L1294.5,980.3 L1296.0,980.3 L1297.5,980.3 L1299.0,980.3 L1299.0,985.0 L999.0,985.0 Z" fill="#008000" stroke="#008000" stroke-width="0.7" stroke-linejoin="round"/>
<path d="M1085.0,981.0 L1086.5,980.8 L1088.0,980.5 L1089.5,980.3 L1091.0,980.1 L1092.5,979.8 L1094.0,979.6 L1095.5,979.3 L1097.0,979.0 L1098.5,978.7 L1100.0,978.4 L1101.5,978.0 L1103.0,977.7 L1104.5,977.3 L1106.0,976.9 L1107.5,976.5 L1109.0,976.1 L1110.5,975.7 L1112.0,975.3 L1113.5,974.9 L1115.0,974.4 L1116.5,974.0 L1118.0,973.5 L1119.5,973.1 L1121.0,972.6 L1122.5,972.1 L1124.0,971.7 L1125.5,971.2 L1127.0,970.8 L1128.5,970.3 L1130.0,969.8 L1131.5,969.4 L1133.0,969.0 L1134.5,968.5 L1136.0,968.1 L1137.5,967.7 L1139.0,967.3 L1140.5,966.9 L1142.0,966.6 L1143.5,966.2 L1145.0,965.9 L1146.5,965.6 L1148.0,965.3 L1149.5,965.1 L1151.0,964.8 L1152.5,964.6 L1154.0,964.4 L1155.5,964.2 L1157.0,964.0 L1158.5,963.9 L1160.0,963.7 L1161.5,963.6 L1163.0,963.5 L1164.5,963.4 L1166.0,963.3 L1167.5,963.2 L1169.0,963.2 L1170.5,963.1 L1172.0,963.0 L1173.5,962.9 L1175.0,962.9 L1176.5,962.8 L1178.0,962.7 L1179.5,962.6 L1181.0,962.5 L1182.5,962.4 L1184.0,962.3 L1185.5,962.2 L1187.0,962.1 L1188.5,961.9 L1190.0,961.7 L1191.5,961.6 L1193.0,961.4 L1194.5,961.2 L1196.0,961.0 L1197.5,960.8 L1199.0,960.6 L1200.5,960.4 L1202.0,960.2 L1203.5,960.0 L1205.0,959.9 L1206.5,959.8 L1208.0,959.7 L1209.5,959.7 L1211.0,959.7 L1212.5,959.7 L1214.0,959.9 L1215.5,960.1 L1217.0,960.3 L1218.5,960.6 L1220.0,961.0 L1221.5,961.5 L1223.0,962.0 L1224.5,962.5 L1226.0,963.2 L1227.5,963.8 L1229.0,964.5 L1230.5,965.2 L1232.0,966.0 L1233.5,966.7 L1235.0,967.5 L1236.5,968.3 L1238.0,969.0 L1239.5,969.8 L1241.0,970.5 L1242.5,971.3 L1244.0,972.0 L1245.5,972.7 L1247.0,973.3 L1248.5,974.0 L1250.0,974.6 L1251.5,975.2 L1253.0,975.7 L1254.5,976.3 L1256.0,976.8 L1257.5,977.3 L1259.0,977.7 L1260.5,978.1 L1262.0,978.5 L1263.5,978.9 L1265.0,979.2 L1266.5,979.5 L1268.0,979.8 L1269.5,980.1 L1271.0,980.3 L1272.5,980.6 L1274.0,980.8 L1275.5,980.9 L1277.0,981.1 L1278.5,981.3 L1280.0,981.4 L1281.5,981.6 L1283.0,981.7 L1284.5,981.8 L1286.0,981.9 L1287.5,982.0 L1289.0,982.0 L1289.0,985.0 L1085.0,985.0 Z" fill="#ff00ff" stroke="#ff00ff" stroke-width="0.7" stroke-linejoin="round"/>
<line x1="138.6" y1="983.5" x2="1536.3" y2="983.5" stroke="#ff00ff" stroke-width="3.5"/>
<path d="M139.2,675.4 L140.2,675.5 L141.2,675.7 L142.2,675.8 L143.2,675.9 L144.2,675.9 L145.2,676.0 L146.3,676.1 L147.3,676.2 L148.3,676.3 L149.3,676.4 L150.3,676.5 L151.3,676.6 L152.3,676.7 L153.3,676.7 L154.3,676.8 L155.3,676.9 L156.3,677.0 L157.3,677.0 L158.3,677.1 L159.3,677.2 L160.3,677.3 L161.3,677.3 L162.3,677.4 L163.3,677.4 L164.3,677.5 L165.3,677.6 L166.3,677.6 L167.3,677.7 L168.3,677.7 L169.3,677.8 L170.3,677.8 L171.3,677.9 L172.3,677.9 L173.3,677.9 L174.3,678.0 L175.3,678.0 L176.3,678.0 L177.4,678.1 L178.4,678.1 L179.4,678.1 L180.4,678.2 L181.4,678.2 L182.4,678.2 L183.4,678.2 L184.4,678.2 L185.4,678.3 L186.4,678.3 L187.4,678.3 L188.4,678.3 L189.4,678.3 L190.4,678.3 L191.4,678.3 L192.4,678.3 L193.4,678.3 L194.4,678.3 L195.4,678.3 L196.4,678.3 L197.4,678.3 L198.4,678.3 L199.4,678.3 L200.4,678.3 L201.4,678.3 L202.4,678.3 L203.4,678.3 L204.4,678.3 L205.4,678.3 L206.4,678.3 L207.4,678.3 L208.4,678.3 L209.4,678.3 L210.4,678.3 L211.4,678.3 L212.4,678.3 L213.4,678.3 L214.4,678.3 L215.4,678.3 L216.4,678.3 L217.4,678.3 L218.4,678.2 L219.4,678.2 L220.4,678.2 L221.4,678.2 L222.4,678.2 L223.4,678.2 L224.4,678.1 L225.4,678.1 L226.4,678.1 L227.4,678.1 L228.4,678.0 L229.4,678.0 L230.5,678.0 L231.5,678.0 L232.5,677.9 L233.5,677.9 L234.5,677.8 L235.5,677.8 L236.5,677.8 L237.5,677.7 L238.5,677.7 L239.5,677.6 L240.5,677.6 L241.5,677.5 L242.5,677.4 L243.5,677.4 L244.5,677.3 L245.5,677.2 L246.5,677.2 L247.5,677.1 L248.5,677.0 L249.5,676.9 L250.5,676.9 L251.5,676.8 L252.5,676.7 L253.6,676.6 L254.6,676.5 L255.6,676.4 L256.6,676.3 L257.6,676.2 L258.6,676.1 L259.6,676.0 L260.6,675.8 L261.6,675.7 L262.6,675.6 L263.6,675.5 L264.6,675.3 L265.6,675.2 L266.6,675.1 L267.6,674.9 L268.6,674.8 L269.6,674.6 L270.6,674.5 L271.7,674.3 L272.7,674.1 L273.7,674.0 L274.7,673.8 L275.7,673.6 L276.7,673.4 L277.7,673.2 L278.7,673.1 L279.7,672.9 L280.7,672.7 L281.7,672.5 L282.7,672.3 L283.7,672.1 L284.7,671.8 L285.7,671.6 L286.7,671.4 L287.8,671.2 L288.8,670.9 L289.8,670.7 L290.8,670.5 L291.8,670.2 L292.8,670.0 L293.8,669.7 L294.8,669.5 L295.8,669.2 L296.8,668.9 L297.8,668.7 L298.8,668.4 L299.8,668.1 L300.8,667.8 L301.8,667.5 L302.8,667.2 L303.9,666.9 L304.9,666.6 L305.9,666.3 L306.9,666.0 L307.9,665.7 L308.9,665.4 L309.9,665.0 L310.9,664.7 L311.9,664.4 L312.9,664.0 L313.9,663.7 L314.9,663.3 L315.9,663.0 L316.9,662.6 L318.0,662.2 L319.0,661.8 L320.0,661.4 L321.0,661.0 L322.0,660.6 L323.0,660.2 L324.0,659.8 L325.0,659.4 L326.0,659.0 L327.0,658.5 L328.0,658.1 L329.0,657.7 L330.0,657.2 L331.0,656.8 L332.1,656.3 L333.1,655.8 L334.1,655.3 L335.1,654.8 L336.1,654.4 L337.1,653.8 L338.1,653.3 L339.1,652.8 L340.1,652.3 L341.1,651.8 L342.1,651.2 L343.1,650.7 L344.1,650.1 L345.1,649.6 L346.2,649.0 L347.2,648.4 L348.2,647.8 L349.2,647.2 L350.2,646.6 L351.2,646.0 L352.2,645.4 L353.2,644.8 L354.2,644.2 L355.2,643.5 L356.2,642.9 L357.2,642.2 L358.2,641.5 L359.2,640.9 L360.2,640.2 L361.2,639.5 L362.2,638.8 L363.2,638.0 L364.3,637.3 L365.3,636.6 L366.3,635.8 L367.3,635.1 L368.3,634.3 L369.3,633.6 L370.3,632.8 L371.3,632.0 L372.3,631.2 L373.3,630.4 L374.3,629.6 L375.3,628.7 L376.3,627.9 L377.3,627.0 L378.3,626.2 L379.3,625.3 L380.3,624.4 L381.3,623.5 L382.3,622.6 L383.3,621.7 L384.3,620.8 L385.3,619.8 L386.3,618.9 L387.3,617.9 L388.3,616.9 L389.4,616.0 L390.4,615.0 L391.4,614.0 L392.4,613.0 L393.4,612.0 L394.4,611.0 L395.4,609.9 L396.4,608.9 L397.4,607.9 L398.4,606.8 L399.4,605.8 L400.4,604.7 L401.4,603.6 L402.4,602.5 L403.4,601.4 L404.4,600.4 L405.4,599.3 L406.4,598.1 L407.4,597.0 L408.4,595.9 L409.4,594.8 L410.4,593.6 L411.4,592.5 L412.4,591.3 L413.4,590.2 L414.4,589.0 L415.4,587.9 L416.4,586.7 L417.4,585.5 L418.4,584.3 L419.4,583.1 L420.4,581.9 L421.4,580.6 L422.4,579.4 L423.4,578.2 L424.4,576.9 L425.4,575.7 L426.4,574.4 L427.4,573.1 L428.4,571.9 L429.4,570.6 L430.4,569.3 L431.4,568.0 L432.5,566.6 L433.5,565.3 L434.5,564.0 L435.5,562.6 L436.5,561.3 L437.5,559.9 L438.5,558.6 L439.5,557.2 L440.5,555.8 L441.5,554.4 L442.5,553.0 L443.5,551.5 L444.5,550.1 L445.5,548.7 L446.5,547.2 L447.5,545.8 L448.5,544.3 L449.5,542.8 L450.5,541.4 L451.5,539.9 L452.5,538.4 L453.5,536.8 L454.5,535.3 L455.5,533.8 L456.5,532.3 L457.5,530.7 L458.5,529.2 L459.5,527.6 L460.5,526.0 L461.5,524.4 L462.5,522.8 L463.5,521.2 L464.5,519.6 L465.5,518.0 L466.5,516.4 L467.5,514.8 L468.5,513.1 L469.5,511.5 L470.5,509.8 L471.5,508.2 L472.5,506.5 L473.5,504.8 L474.5,503.1 L475.5,501.4 L476.5,499.7 L477.5,498.0 L478.5,496.3 L479.5,494.6 L480.5,492.8 L481.5,491.1 L482.5,489.3 L483.5,487.6 L484.5,485.8 L485.5,484.1 L486.5,482.3 L487.5,480.5 L488.5,478.7 L489.5,476.9 L490.5,475.1 L491.5,473.3 L492.5,471.5 L493.5,469.7 L494.5,467.9 L495.5,466.1 L496.5,464.2 L497.5,462.4 L498.5,460.6 L499.5,458.7 L500.5,456.9 L501.5,455.0 L502.5,453.2 L503.5,451.3 L504.5,449.4 L505.5,447.6 L506.5,445.7 L507.5,443.8 L508.5,441.9 L509.5,440.1 L510.5,438.2 L511.5,436.3 L512.5,434.4 L513.5,432.5 L514.5,430.6 L515.5,428.7 L516.5,426.8 L517.5,424.9 L518.5,422.9 L519.5,421.0 L520.5,419.1 L521.5,417.2 L522.5,415.3 L523.5,413.3 L524.5,411.4 L525.5,409.5 L526.5,407.6 L527.5,405.6 L528.5,403.7 L529.5,401.8 L530.5,399.8 L531.5,397.9 L532.5,396.0 L533.5,394.0 L534.5,392.1 L535.5,390.2 L536.5,388.2 L537.5,386.3 L538.5,384.4 L539.5,382.4 L540.5,380.5 L541.5,378.6 L542.5,376.6 L543.5,374.7 L544.5,372.8 L545.5,370.8 L546.5,368.9 L547.5,367.0 L548.5,365.1 L549.5,363.2 L550.5,361.2 L551.5,359.3 L552.5,357.4 L553.5,355.5 L554.5,353.6 L555.5,351.7 L556.5,349.8 L557.5,347.9 L558.5,346.0 L559.5,344.1 L560.5,342.3 L561.5,340.4 L562.5,338.5 L563.5,336.6 L564.5,334.8 L565.5,332.9 L566.5,331.1 L567.5,329.2 L568.5,327.4 L569.5,325.5 L570.5,323.7 L571.5,321.9 L572.5,320.1 L573.5,318.2 L574.5,316.4 L575.5,314.6 L576.5,312.8 L577.5,311.1 L578.5,309.3 L579.5,307.5 L580.5,305.7 L581.5,304.0 L582.5,302.2 L583.5,300.5 L584.5,298.8 L585.5,297.0 L586.5,295.3 L587.5,293.6 L588.5,291.9 L589.5,290.2 L590.5,288.5 L591.5,286.9 L592.5,285.2 L593.5,283.5 L594.5,281.9 L595.5,280.3 L596.5,278.6 L597.5,277.0 L598.5,275.4 L599.5,273.8 L600.5,272.2 L601.5,270.6 L602.5,269.1 L603.5,267.5 L604.5,266.0 L605.5,264.4 L606.5,262.9 L607.5,261.4 L608.5,259.9 L609.5,258.4 L610.5,257.0 L611.5,255.5 L612.5,254.1 L613.5,252.6 L614.5,251.2 L615.5,249.8 L616.5,248.4 L617.5,247.0 L618.5,245.7 L619.5,244.3 L620.5,243.0 L621.4,241.7 L622.4,240.4 L623.4,239.1 L624.4,237.8 L625.4,236.6 L626.4,235.3 L627.4,234.1 L628.4,232.9 L629.4,231.7 L630.4,230.6 L631.4,229.4 L632.4,228.3 L633.4,227.2 L634.4,226.1 L635.4,225.0 L636.4,223.9 L637.4,222.9 L638.4,221.9 L639.4,220.9 L640.4,219.9 L641.4,218.9 L642.3,218.0 L643.3,217.0 L644.3,216.1 L645.3,215.2 L646.3,214.4 L647.3,213.5 L648.3,212.7 L649.3,211.9 L650.3,211.1 L651.3,210.3 L652.3,209.6 L653.3,208.9 L654.3,208.1 L655.2,207.5 L656.2,206.8 L657.2,206.1 L658.2,205.5 L659.2,204.9 L660.2,204.3 L661.2,203.8 L662.1,203.2 L663.1,202.7 L664.1,202.2 L665.1,201.7 L666.1,201.2 L667.0,200.8 L668.0,200.4 L669.0,200.0 L670.0,199.6 L670.9,199.2 L671.9,198.9 L672.9,198.6 L673.9,198.3 L674.8,198.0 L675.8,197.7 L676.8,197.5 L677.7,197.3 L678.7,197.1 L679.7,196.9 L680.6,196.8 L681.6,196.6 L682.6,196.5 L683.5,196.4 L684.5,196.3 L685.5,196.3 L686.4,196.2 L687.4,196.2 L688.4,196.2 L689.3,196.2 L690.3,196.3 L691.3,196.3 L692.2,196.4 L693.2,196.5 L694.2,196.6 L695.1,196.8 L696.1,196.9 L697.1,197.1 L698.1,197.3 L699.0,197.5 L700.0,197.8 L701.0,198.0 L701.9,198.3 L702.9,198.6 L703.9,198.9 L704.9,199.3 L705.8,199.6 L706.8,200.0 L707.8,200.4 L708.8,200.8 L709.8,201.2 L710.7,201.7 L711.7,202.2 L712.7,202.6 L713.7,203.2 L714.7,203.7 L715.6,204.2 L716.6,204.8 L717.6,205.4 L718.6,206.0 L719.6,206.6 L720.6,207.3 L721.6,207.9 L722.6,208.6 L723.5,209.3 L724.5,210.1 L725.5,210.8 L726.5,211.6 L727.5,212.3 L728.5,213.1 L729.5,214.0 L730.5,214.8 L731.5,215.6 L732.5,216.5 L733.5,217.4 L734.5,218.3 L735.5,219.3 L736.4,220.2 L737.4,221.2 L738.4,222.2 L739.4,223.2 L740.4,224.2 L741.4,225.3 L742.4,226.3 L743.4,227.4 L744.4,228.5 L745.4,229.7 L746.4,230.8 L747.4,232.0 L748.4,233.1 L749.4,234.3 L750.4,235.5 L751.4,236.8 L752.4,238.0 L753.4,239.3 L754.4,240.6 L755.3,241.9 L756.3,243.2 L757.3,244.5 L758.3,245.9 L759.3,247.2 L760.3,248.6 L761.3,250.0 L762.3,251.5 L763.3,252.9 L764.3,254.3 L765.3,255.8 L766.3,257.3 L767.3,258.8 L768.3,260.3 L769.3,261.8 L770.3,263.4 L771.3,264.9 L772.3,266.5 L773.3,268.1 L774.3,269.7 L775.3,271.3 L776.3,272.9 L777.3,274.5 L778.3,276.2 L779.3,277.8 L780.3,279.5 L781.3,281.2 L782.3,282.9 L783.3,284.6 L784.3,286.3 L785.3,288.1 L786.3,289.8 L787.3,291.6 L788.3,293.3 L789.3,295.1 L790.3,296.9 L791.3,298.7 L792.3,300.5 L793.3,302.3 L794.3,304.1 L795.3,306.0 L796.3,307.8 L797.3,309.7 L798.3,311.5 L799.3,313.4 L800.3,315.3 L801.3,317.2 L802.3,319.1 L803.3,321.0 L804.3,322.9 L805.3,324.8 L806.3,326.7 L807.3,328.7 L808.3,330.6 L809.3,332.6 L810.3,334.5 L811.3,336.5 L812.3,338.5 L813.3,340.4 L814.3,342.4 L815.3,344.4 L816.3,346.4 L817.3,348.4 L818.3,350.4 L819.3,352.5 L820.3,354.5 L821.3,356.5 L822.3,358.6 L823.3,360.6 L824.2,362.6 L825.2,364.7 L826.2,366.7 L827.2,368.8 L828.2,370.9 L829.2,372.9 L830.2,375.0 L831.2,377.1 L832.2,379.1 L833.2,381.2 L834.2,383.3 L835.2,385.4 L836.2,387.5 L837.2,389.6 L838.2,391.6 L839.2,393.7 L840.2,395.8 L841.2,397.9 L842.2,400.0 L843.2,402.1 L844.2,404.2 L845.2,406.3 L846.2,408.4 L847.2,410.5 L848.2,412.6 L849.2,414.7 L850.2,416.8 L851.2,418.9 L852.2,421.0 L853.2,423.1 L854.2,425.2 L855.2,427.3 L856.2,429.4 L857.2,431.5 L858.2,433.6 L859.2,435.6 L860.2,437.7 L861.2,439.8 L862.2,441.9 L863.2,444.0 L864.2,446.0 L865.2,448.1 L866.2,450.2 L867.2,452.2 L868.2,454.3 L869.2,456.3 L870.2,458.4 L871.3,460.4 L872.3,462.5 L873.3,464.5 L874.3,466.5 L875.3,468.5 L876.3,470.6 L877.3,472.6 L878.3,474.6 L879.3,476.6 L880.3,478.6 L881.3,480.6 L882.3,482.5 L883.3,484.5 L884.3,486.5 L885.3,488.5 L886.3,490.4 L887.3,492.4 L888.3,494.3 L889.3,496.2 L890.3,498.1 L891.3,500.1 L892.3,502.0 L893.3,503.8 L894.3,505.7 L895.3,507.6 L896.3,509.5 L897.3,511.3 L898.3,513.2 L899.3,515.0 L900.3,516.8 L901.3,518.6 L902.3,520.4 L903.3,522.2 L904.3,524.0 L905.3,525.8 L906.3,527.5 L907.3,529.3 L908.3,531.0 L909.3,532.7 L910.3,534.4 L911.3,536.1 L912.3,537.8 L913.3,539.4 L914.3,541.1 L915.3,542.7 L916.3,544.3 L917.3,545.9 L918.3,547.5 L919.3,549.0 L920.3,550.6 L921.3,552.1 L922.3,553.6 L923.3,555.1 L924.3,556.6 L925.3,558.1 L926.3,559.5 L927.3,561.0 L928.3,562.4 L929.3,563.7 L930.3,565.1 L931.3,566.5 L932.4,567.8 L933.4,569.1 L934.4,570.4 L935.4,571.6 L936.4,572.9 L937.4,574.1 L938.4,575.3 L939.4,576.5 L940.4,577.6 L941.4,578.7 L942.4,579.9 L943.4,580.9 L944.4,582.0 L945.4,583.0 L946.4,584.0 L947.4,585.0 L948.5,586.0 L949.5,586.9 L950.5,587.8 L951.5,588.7 L952.5,589.6 L953.5,590.4 L954.5,591.2 L955.5,592.0 L956.5,592.8 L957.6,593.5 L958.6,594.2 L959.6,594.9 L960.6,595.5 L961.6,596.2 L962.7,596.8 L963.7,597.3 L964.7,597.9 L965.7,598.4 L966.8,598.9 L967.8,599.4 L968.8,599.8 L969.8,600.2 L970.9,600.6 L971.9,600.9 L972.9,601.3 L974.0,601.6 L975.0,601.8 L976.1,602.1 L977.1,602.3 L978.1,602.5 L979.2,602.7 L980.2,602.8 L981.2,602.9 L982.3,603.0 L983.3,603.1 L984.3,603.2 L985.4,603.2 L986.4,603.2 L987.4,603.2 L988.5,603.1 L989.5,603.1 L990.5,603.0 L991.6,602.9 L992.6,602.7 L993.6,602.6 L994.7,602.5 L995.7,602.3 L996.7,602.1 L997.7,601.9 L998.7,601.7 L999.8,601.5 L1000.8,601.2 L1001.8,601.0 L1002.8,600.7 L1003.8,600.4 L1004.8,600.2 L1005.8,599.9 L1006.8,599.6 L1007.9,599.3 L1008.9,599.0 L1009.9,598.7 L1010.9,598.3 L1011.9,598.0 L1012.9,597.7 L1013.9,597.4 L1014.9,597.0 L1015.9,596.7 L1016.9,596.3 L1017.9,596.0 L1018.9,595.6 L1019.9,595.3 L1020.9,594.9 L1022.0,594.5 L1023.0,594.1 L1024.0,593.7 L1025.0,593.3 L1026.0,592.9 L1027.0,592.5 L1028.0,592.0 L1029.1,591.5 L1030.1,591.0 L1031.1,590.5 L1032.1,590.0 L1033.1,589.4 L1034.2,588.8 L1035.2,588.2 L1036.2,587.6 L1037.2,586.9 L1038.2,586.2 L1039.3,585.5 L1040.3,584.7 L1041.3,583.9 L1042.3,583.0 L1043.3,582.1 L1044.3,581.2 L1045.4,580.2 L1046.4,579.2 L1047.4,578.2 L1048.4,577.1 L1049.4,575.9 L1050.4,574.7 L1051.4,573.5 L1052.4,572.2 L1053.5,570.8 L1054.5,569.5 L1055.5,568.0 L1056.5,566.5 L1057.5,565.0 L1058.5,563.4 L1059.5,561.7 L1060.5,560.0 L1061.5,558.2 L1062.5,556.4 L1063.6,554.6 L1064.6,552.6 L1065.6,550.7 L1066.6,548.6 L1067.6,546.6 L1068.7,544.4 L1069.7,542.3 L1070.7,540.0 L1071.8,537.7 L1072.8,535.4 L1073.9,533.0 L1074.9,530.6 L1075.9,528.1 L1077.0,525.6 L1078.0,523.0 L1079.1,520.4 L1080.1,517.7 L1081.1,515.0 L1082.2,512.2 L1083.2,509.4 L1084.2,506.6 L1085.3,503.7 L1086.3,500.8 L1087.3,497.8 L1088.3,494.9 L1089.4,491.8 L1090.4,488.8 L1091.4,485.7 L1092.4,482.6 L1093.4,479.5 L1094.4,476.3 L1095.5,473.2 L1096.5,470.0 L1097.5,466.8 L1098.5,463.5 L1099.5,460.3 L1100.5,457.0 L1101.5,453.7 L1102.5,450.4 L1103.5,447.1 L1104.5,443.7 L1105.5,440.3 L1106.5,436.9 L1107.5,433.5 L1108.6,430.1 L1109.6,426.6 L1110.6,423.1 L1111.6,419.6 L1112.6,416.0 L1113.6,412.4 L1114.6,408.8 L1115.6,405.1 L1116.7,401.4 L1117.7,397.6 L1118.7,393.7 L1119.7,389.8 L1120.7,385.8 L1121.7,381.8 L1122.7,377.7 L1123.8,373.4 L1124.8,369.2 L1125.8,364.8 L1126.8,360.3 L1127.8,355.7 L1128.8,351.1 L1129.9,346.3 L1130.9,341.4 L1131.9,336.5 L1132.9,331.4 L1133.9,326.2 L1134.9,320.9 L1135.9,315.5 L1136.9,310.0 L1138.0,304.4 L1139.0,298.6 L1140.0,292.8 L1141.0,286.9 L1142.0,280.9 L1143.0,274.7 L1144.0,268.5 L1145.0,262.3 L1146.0,255.9 L1147.0,249.4 L1148.0,242.9 L1149.0,236.4 L1150.0,229.7 L1151.0,223.1 L1152.0,216.4 L1153.0,209.7 L1154.0,202.9 L1155.0,196.2 L1156.0,189.4 L1157.0,182.7 L1158.0,176.0 L1159.0,169.3 L1160.0,162.7 L1161.0,156.1 L1162.0,149.6 L1163.0,143.1 L1164.0,136.8 L1165.0,130.5 L1166.0,124.4 L1167.0,118.4 L1168.0,112.5 L1168.9,106.7 L1169.9,101.1 L1170.9,95.7 L1171.9,90.4 L1172.9,85.3 L1173.8,80.4 L1174.8,75.6 L1175.8,71.1 L1176.7,66.8 L1177.7,62.6 L1178.6,58.6 L1179.5,54.9 L1180.4,51.4 L1181.3,48.0 L1182.2,44.9 L1183.1,42.0 L1184.1,39.3 L1185.0,36.8 L1185.9,34.5 L1186.8,32.5 L1187.7,30.6 L1188.7,28.9 L1189.6,27.4 L1190.5,26.1 L1191.5,25.0 L1192.4,24.1 L1193.3,23.4 L1194.1,22.9 L1195.0,22.4 L1195.8,22.2 L1196.6,22.0 L1197.4,22.0 L1198.2,22.0 L1199.0,22.2 L1199.8,22.5 L1200.7,22.9 L1201.6,23.4 L1202.5,24.0 L1203.5,24.7 L1204.4,25.6 L1205.4,26.5 L1206.4,27.6 L1207.3,28.8 L1208.3,30.1 L1209.3,31.5 L1210.3,33.0 L1211.3,34.6 L1212.2,36.3 L1213.2,38.1 L1214.1,40.1 L1215.1,42.1 L1216.0,44.2 L1217.0,46.4 L1217.9,48.7 L1218.9,51.2 L1219.8,53.7 L1220.7,56.3 L1221.7,59.1 L1222.6,61.9 L1223.5,64.8 L1224.4,67.9 L1225.4,71.1 L1226.3,74.4 L1227.3,77.8 L1228.2,81.3 L1229.2,85.0 L1230.1,88.7 L1231.1,92.6 L1232.1,96.7 L1233.1,100.8 L1234.0,105.2 L1235.0,109.6 L1236.0,114.2 L1237.0,118.9 L1237.9,123.8 L1238.9,128.8 L1239.9,133.9 L1240.9,139.2 L1241.9,144.7 L1242.8,150.2 L1243.8,156.0 L1244.8,161.9 L1245.8,167.9 L1246.8,174.0 L1247.8,180.3 L1248.8,186.8 L1249.8,193.4 L1250.8,200.1 L1251.8,206.9 L1252.8,213.9 L1253.8,221.0 L1254.8,228.2 L1255.8,235.5 L1256.8,243.0 L1257.8,250.6 L1258.8,258.3 L1259.8,266.0 L1260.8,273.9 L1261.8,281.9 L1262.8,289.9 L1263.8,298.0 L1264.8,306.3 L1265.8,314.5 L1266.8,322.9 L1267.8,331.3 L1268.8,339.7 L1269.8,348.2 L1270.8,356.7 L1271.8,365.3 L1272.8,373.8 L1273.8,382.4 L1274.8,391.1 L1275.8,399.7 L1276.8,408.3 L1277.8,416.9 L1278.8,425.5 L1279.8,434.0 L1280.8,442.6 L1281.8,451.1 L1282.8,459.5 L1283.8,467.9 L1284.8,476.3 L1285.8,484.6 L1286.8,492.8 L1287.8,501.0 L1288.8,509.1 L1289.8,517.1 L1290.8,525.0 L1291.8,532.8 L1292.8,540.6 L1293.8,548.2 L1294.8,555.7 L1295.8,563.2 L1296.8,570.5 L1297.8,577.7 L1298.8,584.8 L1299.8,591.8 L1300.8,598.6 L1301.8,605.3 L1302.8,611.9 L1303.8,618.4 L1304.8,624.8 L1305.8,631.0 L1306.8,637.1 L1307.8,643.0 L1308.8,648.8 L1309.9,654.5 L1310.9,660.0 L1311.9,665.4 L1312.9,670.7 L1313.9,675.9 L1314.9,680.9 L1316.0,685.7 L1317.0,690.5 L1318.0,695.1 L1319.0,699.6 L1320.0,703.9 L1321.1,708.2 L1322.1,712.2 L1323.1,716.2 L1324.2,720.1 L1325.2,723.8 L1326.2,727.4 L1327.3,730.9 L1328.3,734.3 L1329.4,737.5 L1330.5,740.7 L1331.5,743.7 L1332.6,746.6 L1333.7,749.5 L1334.7,752.2 L1335.8,754.8 L1336.9,757.3 L1337.9,759.8 L1339.0,762.1 L1340.0,764.4 L1341.1,766.5 L1342.1,768.6 L1343.2,770.6 L1344.2,772.5 L1345.2,774.4 L1346.3,776.2 L1347.3,777.9 L1348.3,779.6 L1349.3,781.1 L1350.3,782.7 L1351.3,784.1 L1352.3,785.5 L1353.4,786.9 L1354.4,788.2 L1355.4,789.4 L1356.4,790.6 L1357.4,791.7 L1358.4,792.8 L1359.4,793.9 L1360.4,794.9 L1361.5,795.8 L1362.5,796.8 L1363.5,797.6 L1364.5,798.5 L1365.5,799.3 L1366.5,800.1 L1367.6,800.8 L1368.6,801.5 L1369.6,802.2 L1370.6,802.9 L1371.6,803.5 L1372.7,804.1 L1373.7,804.7 L1374.7,805.2 L1375.7,805.7 L1376.7,806.2 L1377.8,806.7 L1378.8,807.2 L1379.8,807.6 L1380.8,808.1 L1381.8,808.5 L1382.8,808.9 L1383.9,809.3 L1384.9,809.6 L1385.9,810.0 L1386.9,810.3 L1387.9,810.6 L1388.9,811.0 L1389.9,811.3 L1391.0,811.6 L1392.0,811.9 L1393.0,812.1 L1394.0,812.4 L1395.0,812.7 L1396.0,812.9 L1397.0,813.2 L1398.0,813.4 L1399.0,813.7 L1400.0,813.9 L1401.1,814.1 L1402.1,814.4 L1403.1,814.6 L1404.1,814.8 L1405.1,815.0 L1406.1,815.2 L1407.1,815.4 L1408.1,815.6 L1409.1,815.8 L1410.1,816.0 L1411.1,816.2 L1412.1,816.4 L1413.1,816.6 L1414.1,816.8 L1415.1,816.9 L1416.1,817.1 L1417.1,817.3 L1418.1,817.5 L1419.1,817.7 L1420.1,817.8 L1421.1,818.0 L1422.1,818.2 L1423.1,818.4 L1424.1,818.5 L1425.1,818.7 L1426.1,818.9 L1427.1,819.0 L1428.1,819.2 L1429.1,819.4 L1430.1,819.6 L1431.1,819.7 L1432.1,819.9 L1433.1,820.1 L1434.1,820.2 L1435.1,820.4 L1436.1,820.6 L1437.1,820.7 L1438.1,820.9 L1439.1,821.1 L1440.1,821.2 L1441.1,821.4 L1442.1,821.5 L1443.1,821.7 L1444.1,821.9 L1445.1,822.0 L1446.1,822.2 L1447.1,822.4 L1448.1,822.5 L1449.1,822.7 L1450.1,822.9 L1451.1,823.0 L1452.1,823.2 L1453.1,823.3 L1454.1,823.5 L1455.1,823.7 L1456.1,823.8 L1457.1,824.0 L1458.1,824.2 L1459.1,824.3 L1460.1,824.5 L1461.1,824.7 L1462.1,824.8 L1463.1,825.0 L1464.1,825.1 L1465.1,825.3 L1466.1,825.5 L1467.1,825.6 L1468.1,825.8 L1469.1,826.0 L1470.1,826.1 L1471.1,826.3 L1472.1,826.4 L1473.1,826.6 L1474.1,826.8 L1475.1,826.9 L1476.1,827.1 L1477.1,827.2 L1478.1,827.4 L1479.1,827.6 L1480.1,827.7 L1481.1,827.9 L1482.1,828.0 L1483.1,828.2 L1484.1,828.4 L1485.2,828.5 L1486.2,828.7 L1487.2,828.8 L1488.2,829.0 L1489.2,829.1 L1490.2,829.3 L1491.2,829.4 L1492.2,829.6 L1493.2,829.7 L1494.2,829.9 L1495.2,830.0 L1496.2,830.2 L1497.2,830.3 L1498.2,830.5 L1499.2,830.6 L1500.2,830.8 L1501.2,830.9 L1502.2,831.0 L1503.2,831.2 L1504.2,831.3 L1505.2,831.5 L1506.2,831.6 L1507.2,831.7 L1507.6,828.5 L1506.6,828.4 L1505.6,828.3 L1504.6,828.1 L1503.6,828.0 L1502.6,827.8 L1501.6,827.7 L1500.6,827.5 L1499.6,827.4 L1498.6,827.3 L1497.6,827.1 L1496.6,827.0 L1495.6,826.8 L1494.6,826.7 L1493.6,826.5 L1492.6,826.4 L1491.6,826.2 L1490.6,826.1 L1489.6,825.9 L1488.6,825.8 L1487.6,825.6 L1486.6,825.5 L1485.6,825.3 L1484.7,825.2 L1483.7,825.0 L1482.7,824.8 L1481.7,824.7 L1480.7,824.5 L1479.7,824.4 L1478.7,824.2 L1477.7,824.0 L1476.7,823.9 L1475.7,823.7 L1474.7,823.6 L1473.7,823.4 L1472.7,823.2 L1471.7,823.1 L1470.7,822.9 L1469.7,822.8 L1468.7,822.6 L1467.7,822.4 L1466.7,822.3 L1465.7,822.1 L1464.7,821.9 L1463.7,821.8 L1462.7,821.6 L1461.7,821.5 L1460.7,821.3 L1459.7,821.1 L1458.7,821.0 L1457.7,820.8 L1456.7,820.6 L1455.7,820.5 L1454.7,820.3 L1453.7,820.2 L1452.7,820.0 L1451.7,819.8 L1450.7,819.7 L1449.7,819.5 L1448.7,819.3 L1447.7,819.2 L1446.7,819.0 L1445.7,818.8 L1444.7,818.7 L1443.7,818.5 L1442.7,818.4 L1441.7,818.2 L1440.7,818.0 L1439.7,817.9 L1438.7,817.7 L1437.7,817.5 L1436.7,817.4 L1435.7,817.2 L1434.7,817.0 L1433.7,816.9 L1432.7,816.7 L1431.7,816.5 L1430.7,816.4 L1429.7,816.2 L1428.7,816.0 L1427.7,815.9 L1426.7,815.7 L1425.7,815.5 L1424.7,815.3 L1423.7,815.2 L1422.7,815.0 L1421.7,814.8 L1420.7,814.7 L1419.7,814.5 L1418.7,814.3 L1417.7,814.1 L1416.7,814.0 L1415.7,813.8 L1414.7,813.6 L1413.7,813.4 L1412.7,813.2 L1411.7,813.0 L1410.7,812.8 L1409.7,812.7 L1408.7,812.5 L1407.7,812.3 L1406.7,812.1 L1405.7,811.9 L1404.7,811.7 L1403.7,811.4 L1402.7,811.2 L1401.7,811.0 L1400.8,810.8 L1399.8,810.6 L1398.8,810.3 L1397.8,810.1 L1396.8,809.8 L1395.8,809.6 L1394.8,809.3 L1393.8,809.1 L1392.8,808.8 L1391.8,808.5 L1390.9,808.2 L1389.9,807.9 L1388.9,807.6 L1387.9,807.3 L1386.9,807.0 L1385.9,806.6 L1384.9,806.3 L1384.0,805.9 L1383.0,805.6 L1382.0,805.2 L1381.0,804.8 L1380.0,804.3 L1379.0,803.9 L1378.1,803.5 L1377.1,803.0 L1376.1,802.5 L1375.1,802.0 L1374.1,801.4 L1373.2,800.9 L1372.2,800.3 L1371.2,799.7 L1370.2,799.1 L1369.2,798.4 L1368.3,797.7 L1367.3,797.0 L1366.3,796.3 L1365.3,795.5 L1364.3,794.6 L1363.3,793.8 L1362.4,792.9 L1361.4,791.9 L1360.4,790.9 L1359.4,789.9 L1358.4,788.8 L1357.4,787.7 L1356.4,786.5 L1355.4,785.3 L1354.5,784.0 L1353.5,782.6 L1352.5,781.2 L1351.5,779.7 L1350.5,778.2 L1349.5,776.6 L1348.5,774.9 L1347.6,773.1 L1346.6,771.3 L1345.6,769.4 L1344.7,767.4 L1343.7,765.3 L1342.8,763.1 L1341.8,760.9 L1340.9,758.5 L1339.9,756.1 L1339.0,753.6 L1338.1,750.9 L1337.1,748.2 L1336.2,745.4 L1335.3,742.4 L1334.3,739.4 L1333.4,736.3 L1332.5,733.0 L1331.5,729.7 L1330.6,726.2 L1329.6,722.6 L1328.6,718.9 L1327.7,715.1 L1326.7,711.1 L1325.7,707.0 L1324.8,702.8 L1323.8,698.5 L1322.8,694.0 L1321.8,689.4 L1320.8,684.7 L1319.9,679.9 L1318.9,674.9 L1317.9,669.8 L1316.9,664.5 L1315.9,659.1 L1314.9,653.6 L1314.0,647.9 L1313.0,642.1 L1312.0,636.2 L1311.0,630.1 L1310.0,623.9 L1309.0,617.6 L1308.0,611.1 L1307.0,604.6 L1306.0,597.8 L1305.0,591.0 L1304.0,584.1 L1303.0,577.0 L1302.0,569.8 L1301.0,562.5 L1300.0,555.0 L1299.0,547.5 L1298.0,539.9 L1297.0,532.2 L1296.0,524.3 L1295.0,516.4 L1294.0,508.4 L1293.0,500.3 L1292.0,492.2 L1291.0,483.9 L1290.0,475.7 L1289.0,467.3 L1288.0,458.9 L1287.0,450.4 L1286.0,441.9 L1285.0,433.4 L1284.0,424.8 L1283.0,416.3 L1282.0,407.7 L1281.0,399.1 L1280.0,390.4 L1279.0,381.8 L1278.0,373.2 L1277.0,364.7 L1276.0,356.1 L1275.0,347.6 L1274.0,339.1 L1273.0,330.6 L1272.0,322.2 L1271.0,313.9 L1270.0,305.6 L1269.0,297.4 L1268.0,289.3 L1267.0,281.2 L1266.0,273.2 L1265.0,265.4 L1264.0,257.6 L1263.0,249.9 L1262.0,242.3 L1261.0,234.8 L1260.0,227.5 L1259.0,220.3 L1258.0,213.1 L1257.0,206.1 L1256.0,199.3 L1255.0,192.6 L1254.0,186.0 L1253.0,179.5 L1252.0,173.2 L1251.0,167.0 L1250.0,161.0 L1249.0,155.1 L1248.0,149.3 L1246.9,143.7 L1245.9,138.3 L1244.9,133.0 L1243.9,127.8 L1242.9,122.8 L1241.8,117.9 L1240.8,113.1 L1239.8,108.5 L1238.8,104.1 L1237.7,99.7 L1236.7,95.6 L1235.7,91.5 L1234.7,87.6 L1233.6,83.8 L1232.6,80.1 L1231.5,76.6 L1230.5,73.1 L1229.4,69.8 L1228.4,66.7 L1227.3,63.6 L1226.2,60.6 L1225.1,57.8 L1224.1,55.1 L1223.0,52.4 L1221.9,49.9 L1220.9,47.5 L1219.8,45.2 L1218.8,43.0 L1217.7,40.8 L1216.7,38.8 L1215.6,36.9 L1214.6,35.0 L1213.5,33.3 L1212.5,31.6 L1211.5,30.0 L1210.5,28.5 L1209.5,27.1 L1208.4,25.8 L1207.4,24.6 L1206.4,23.5 L1205.3,22.5 L1204.3,21.7 L1203.2,20.9 L1202.1,20.2 L1201.0,19.7 L1199.8,19.3 L1198.6,19.0 L1197.4,18.9 L1196.2,19.0 L1195.0,19.3 L1193.8,19.7 L1192.7,20.3 L1191.5,21.1 L1190.4,22.0 L1189.3,23.1 L1188.3,24.4 L1187.2,25.8 L1186.1,27.3 L1185.1,29.1 L1184.0,31.1 L1182.9,33.2 L1181.8,35.5 L1180.7,38.0 L1179.7,40.8 L1178.6,43.7 L1177.5,46.9 L1176.4,50.2 L1175.3,53.8 L1174.2,57.5 L1173.1,61.5 L1172.1,65.7 L1171.0,70.0 L1170.0,74.6 L1169.0,79.4 L1167.9,84.3 L1166.9,89.5 L1165.9,94.8 L1164.9,100.2 L1163.9,105.8 L1162.8,111.6 L1161.8,117.5 L1160.8,123.6 L1159.8,129.7 L1158.8,136.0 L1157.8,142.3 L1156.8,148.8 L1155.8,155.3 L1154.8,161.9 L1153.8,168.5 L1152.8,175.2 L1151.8,181.9 L1150.8,188.6 L1149.8,195.4 L1148.8,202.1 L1147.8,208.9 L1146.8,215.6 L1145.8,222.3 L1144.8,229.0 L1143.8,235.6 L1142.8,242.1 L1141.8,248.6 L1140.8,255.1 L1139.8,261.4 L1138.8,267.7 L1137.8,273.9 L1136.8,280.0 L1135.8,286.0 L1134.8,291.9 L1133.8,297.8 L1132.8,303.5 L1131.9,309.1 L1130.9,314.6 L1129.9,320.0 L1128.9,325.2 L1127.9,330.4 L1126.9,335.5 L1125.9,340.4 L1124.9,345.3 L1124.0,350.0 L1123.0,354.7 L1122.0,359.2 L1121.0,363.7 L1120.0,368.1 L1119.0,372.3 L1118.1,376.5 L1117.1,380.6 L1116.1,384.7 L1115.1,388.6 L1114.1,392.5 L1113.1,396.4 L1112.1,400.2 L1111.2,403.9 L1110.2,407.6 L1109.2,411.2 L1108.2,414.8 L1107.2,418.4 L1106.2,421.9 L1105.2,425.4 L1104.2,428.8 L1103.3,432.3 L1102.3,435.7 L1101.3,439.1 L1100.3,442.4 L1099.3,445.8 L1098.3,449.1 L1097.3,452.4 L1096.3,455.7 L1095.3,459.0 L1094.3,462.2 L1093.3,465.5 L1092.3,468.7 L1091.3,471.9 L1090.4,475.1 L1089.4,478.2 L1088.4,481.3 L1087.4,484.4 L1086.4,487.5 L1085.4,490.5 L1084.5,493.6 L1083.5,496.5 L1082.5,499.5 L1081.5,502.4 L1080.6,505.3 L1079.6,508.1 L1078.6,511.0 L1077.7,513.7 L1076.7,516.4 L1075.7,519.1 L1074.8,521.8 L1073.8,524.3 L1072.9,526.9 L1071.9,529.4 L1070.9,531.8 L1070.0,534.2 L1069.0,536.6 L1068.1,538.8 L1067.1,541.1 L1066.1,543.3 L1065.2,545.4 L1064.2,547.5 L1063.2,549.5 L1062.2,551.4 L1061.2,553.3 L1060.3,555.2 L1059.3,557.0 L1058.3,558.7 L1057.3,560.4 L1056.3,562.0 L1055.3,563.6 L1054.3,565.1 L1053.3,566.5 L1052.3,567.9 L1051.3,569.3 L1050.4,570.6 L1049.4,571.8 L1048.4,573.0 L1047.4,574.2 L1046.4,575.2 L1045.4,576.3 L1044.4,577.3 L1043.4,578.2 L1042.5,579.2 L1041.5,580.0 L1040.5,580.9 L1039.5,581.6 L1038.5,582.4 L1037.5,583.1 L1036.6,583.8 L1035.6,584.4 L1034.6,585.1 L1033.6,585.7 L1032.6,586.2 L1031.7,586.8 L1030.7,587.3 L1029.7,587.8 L1028.7,588.3 L1027.7,588.7 L1026.8,589.2 L1025.8,589.6 L1024.8,590.0 L1023.8,590.4 L1022.8,590.8 L1021.8,591.2 L1020.8,591.6 L1019.9,591.9 L1018.9,592.3 L1017.9,592.7 L1016.9,593.0 L1015.9,593.4 L1014.9,593.7 L1013.9,594.0 L1012.9,594.4 L1011.9,594.7 L1010.9,595.0 L1009.9,595.3 L1008.9,595.6 L1007.9,595.9 L1006.9,596.2 L1006.0,596.5 L1005.0,596.8 L1004.0,597.1 L1003.0,597.3 L1002.0,597.6 L1001.0,597.9 L1000.0,598.1 L999.0,598.3 L998.1,598.5 L997.1,598.7 L996.1,598.9 L995.1,599.1 L994.1,599.3 L993.2,599.4 L992.2,599.5 L991.2,599.6 L990.3,599.7 L989.3,599.8 L988.3,599.9 L987.4,599.9 L986.4,599.9 L985.4,599.9 L984.5,599.9 L983.5,599.8 L982.5,599.8 L981.6,599.7 L980.6,599.6 L979.6,599.5 L978.7,599.3 L977.7,599.1 L976.7,598.9 L975.8,598.7 L974.8,598.5 L973.9,598.2 L972.9,597.9 L971.9,597.6 L971.0,597.3 L970.0,596.9 L969.0,596.5 L968.0,596.1 L967.1,595.6 L966.1,595.1 L965.1,594.6 L964.1,594.1 L963.2,593.6 L962.2,593.0 L961.2,592.4 L960.2,591.7 L959.2,591.1 L958.3,590.4 L957.3,589.7 L956.3,589.0 L955.3,588.2 L954.3,587.4 L953.3,586.6 L952.3,585.7 L951.3,584.9 L950.3,584.0 L949.4,583.0 L948.4,582.1 L947.4,581.1 L946.4,580.1 L945.4,579.1 L944.4,578.0 L943.4,576.9 L942.4,575.8 L941.4,574.7 L940.4,573.6 L939.4,572.4 L938.4,571.2 L937.4,570.0 L936.4,568.7 L935.4,567.5 L934.4,566.2 L933.5,564.9 L932.5,563.5 L931.5,562.2 L930.5,560.8 L929.5,559.4 L928.5,558.0 L927.5,556.6 L926.5,555.2 L925.5,553.7 L924.5,552.2 L923.5,550.7 L922.5,549.2 L921.5,547.6 L920.5,546.1 L919.5,544.5 L918.5,542.9 L917.5,541.3 L916.5,539.7 L915.5,538.1 L914.5,536.4 L913.5,534.8 L912.5,533.1 L911.5,531.4 L910.5,529.7 L909.5,528.0 L908.5,526.3 L907.5,524.5 L906.5,522.7 L905.5,521.0 L904.5,519.2 L903.5,517.4 L902.5,515.6 L901.5,513.8 L900.5,512.0 L899.5,510.1 L898.5,508.3 L897.5,506.4 L896.5,504.5 L895.5,502.7 L894.5,500.8 L893.5,498.9 L892.5,497.0 L891.5,495.1 L890.5,493.1 L889.5,491.2 L888.5,489.3 L887.5,487.3 L886.5,485.4 L885.5,483.4 L884.5,481.4 L883.5,479.4 L882.5,477.5 L881.5,475.5 L880.5,473.5 L879.5,471.5 L878.5,469.4 L877.5,467.4 L876.5,465.4 L875.5,463.4 L874.5,461.3 L873.5,459.3 L872.6,457.2 L871.6,455.2 L870.6,453.1 L869.6,451.1 L868.6,449.0 L867.6,447.0 L866.6,444.9 L865.6,442.8 L864.6,440.7 L863.6,438.7 L862.6,436.6 L861.6,434.5 L860.6,432.4 L859.6,430.3 L858.6,428.2 L857.6,426.1 L856.6,424.1 L855.6,422.0 L854.6,419.9 L853.6,417.8 L852.6,415.7 L851.6,413.6 L850.6,411.5 L849.6,409.4 L848.6,407.3 L847.6,405.2 L846.6,403.1 L845.6,401.0 L844.6,398.9 L843.6,396.8 L842.6,394.7 L841.6,392.6 L840.6,390.5 L839.6,388.4 L838.6,386.3 L837.6,384.2 L836.6,382.2 L835.6,380.1 L834.6,378.0 L833.6,375.9 L832.6,373.9 L831.6,371.8 L830.6,369.7 L829.6,367.7 L828.6,365.6 L827.6,363.6 L826.6,361.5 L825.5,359.5 L824.5,357.4 L823.5,355.4 L822.5,353.4 L821.5,351.3 L820.5,349.3 L819.5,347.3 L818.5,345.3 L817.5,343.3 L816.5,341.3 L815.5,339.3 L814.5,337.3 L813.5,335.4 L812.5,333.4 L811.5,331.4 L810.5,329.5 L809.5,327.5 L808.5,325.6 L807.5,323.6 L806.5,321.7 L805.5,319.8 L804.5,317.9 L803.5,316.0 L802.5,314.1 L801.5,312.2 L800.5,310.3 L799.5,308.5 L798.5,306.6 L797.5,304.7 L796.5,302.9 L795.5,301.1 L794.5,299.3 L793.5,297.4 L792.5,295.6 L791.5,293.8 L790.5,292.1 L789.5,290.3 L788.5,288.5 L787.5,286.8 L786.5,285.0 L785.5,283.3 L784.5,281.6 L783.5,279.9 L782.5,278.2 L781.5,276.5 L780.5,274.8 L779.5,273.2 L778.5,271.5 L777.5,269.9 L776.5,268.3 L775.5,266.7 L774.5,265.1 L773.5,263.5 L772.5,262.0 L771.5,260.4 L770.5,258.9 L769.5,257.3 L768.5,255.8 L767.5,254.3 L766.5,252.9 L765.5,251.4 L764.5,250.0 L763.5,248.5 L762.5,247.1 L761.5,245.7 L760.5,244.3 L759.5,243.0 L758.5,241.6 L757.5,240.3 L756.4,239.0 L755.4,237.7 L754.4,236.4 L753.4,235.1 L752.4,233.9 L751.4,232.6 L750.4,231.4 L749.4,230.2 L748.4,229.1 L747.4,227.9 L746.4,226.8 L745.4,225.6 L744.4,224.5 L743.4,223.4 L742.4,222.4 L741.4,221.3 L740.4,220.3 L739.4,219.3 L738.4,218.3 L737.3,217.3 L736.3,216.3 L735.3,215.4 L734.3,214.5 L733.3,213.6 L732.3,212.7 L731.3,211.8 L730.3,210.9 L729.3,210.1 L728.3,209.3 L727.3,208.5 L726.3,207.7 L725.3,207.0 L724.2,206.2 L723.2,205.5 L722.2,204.8 L721.2,204.1 L720.2,203.5 L719.2,202.8 L718.2,202.2 L717.2,201.6 L716.1,201.0 L715.1,200.5 L714.1,199.9 L713.1,199.4 L712.1,198.9 L711.0,198.4 L710.0,197.9 L709.0,197.5 L708.0,197.1 L707.0,196.7 L705.9,196.3 L704.9,195.9 L703.9,195.6 L702.9,195.3 L701.8,195.0 L700.8,194.7 L699.8,194.4 L698.7,194.2 L697.7,194.0 L696.7,193.8 L695.7,193.6 L694.6,193.4 L693.6,193.3 L692.6,193.2 L691.5,193.1 L690.5,193.0 L689.5,193.0 L688.4,192.9 L687.4,192.9 L686.4,193.0 L685.3,193.0 L684.3,193.1 L683.3,193.2 L682.2,193.3 L681.2,193.4 L680.2,193.6 L679.1,193.7 L678.1,193.9 L677.1,194.1 L676.0,194.4 L675.0,194.6 L674.0,194.9 L672.9,195.2 L671.9,195.6 L670.9,195.9 L669.9,196.3 L668.8,196.7 L667.8,197.1 L666.8,197.5 L665.8,198.0 L664.7,198.4 L663.7,198.9 L662.7,199.4 L661.7,200.0 L660.7,200.5 L659.6,201.1 L658.6,201.7 L657.6,202.4 L656.6,203.0 L655.6,203.7 L654.6,204.3 L653.6,205.0 L652.5,205.8 L651.5,206.5 L650.5,207.3 L649.5,208.1 L648.5,208.9 L647.5,209.7 L646.5,210.5 L645.5,211.4 L644.5,212.3 L643.5,213.2 L642.5,214.1 L641.5,215.0 L640.5,216.0 L639.4,216.9 L638.4,217.9 L637.4,218.9 L636.4,220.0 L635.4,221.0 L634.4,222.1 L633.4,223.2 L632.4,224.3 L631.4,225.4 L630.4,226.5 L629.4,227.7 L628.4,228.8 L627.4,230.0 L626.4,231.2 L625.4,232.4 L624.4,233.7 L623.4,234.9 L622.4,236.2 L621.4,237.5 L620.4,238.8 L619.4,240.1 L618.3,241.4 L617.3,242.8 L616.3,244.1 L615.3,245.5 L614.3,246.9 L613.3,248.3 L612.3,249.7 L611.3,251.1 L610.3,252.6 L609.3,254.0 L608.3,255.5 L607.3,257.0 L606.3,258.5 L605.3,260.0 L604.3,261.5 L603.3,263.0 L602.3,264.6 L601.3,266.1 L600.3,267.7 L599.3,269.3 L598.3,270.8 L597.3,272.4 L596.3,274.0 L595.3,275.7 L594.3,277.3 L593.3,278.9 L592.3,280.6 L591.3,282.2 L590.3,283.9 L589.3,285.5 L588.3,287.2 L587.3,288.9 L586.3,290.6 L585.3,292.3 L584.3,294.0 L583.3,295.8 L582.3,297.5 L581.3,299.2 L580.3,301.0 L579.3,302.7 L578.3,304.5 L577.3,306.3 L576.3,308.0 L575.3,309.8 L574.3,311.6 L573.3,313.4 L572.3,315.2 L571.3,317.0 L570.3,318.8 L569.3,320.7 L568.3,322.5 L567.3,324.3 L566.3,326.2 L565.3,328.0 L564.3,329.9 L563.3,331.7 L562.3,333.6 L561.3,335.4 L560.3,337.3 L559.3,339.2 L558.3,341.1 L557.3,343.0 L556.3,344.8 L555.3,346.7 L554.3,348.6 L553.3,350.5 L552.3,352.4 L551.3,354.3 L550.3,356.2 L549.3,358.2 L548.3,360.1 L547.3,362.0 L546.3,363.9 L545.3,365.8 L544.3,367.8 L543.3,369.7 L542.3,371.6 L541.3,373.5 L540.3,375.5 L539.3,377.4 L538.3,379.3 L537.3,381.3 L536.3,383.2 L535.3,385.1 L534.3,387.1 L533.3,389.0 L532.3,390.9 L531.3,392.9 L530.3,394.8 L529.3,396.7 L528.3,398.7 L527.3,400.6 L526.3,402.5 L525.3,404.5 L524.3,406.4 L523.3,408.3 L522.3,410.3 L521.3,412.2 L520.3,414.1 L519.3,416.0 L518.3,417.9 L517.3,419.9 L516.3,421.8 L515.3,423.7 L514.3,425.6 L513.3,427.5 L512.3,429.4 L511.3,431.3 L510.3,433.2 L509.3,435.1 L508.3,437.0 L507.3,438.9 L506.3,440.8 L505.3,442.6 L504.3,444.5 L503.3,446.4 L502.3,448.3 L501.3,450.1 L500.3,452.0 L499.3,453.8 L498.3,455.7 L497.3,457.5 L496.3,459.4 L495.3,461.2 L494.3,463.0 L493.3,464.9 L492.3,466.7 L491.3,468.5 L490.3,470.3 L489.3,472.1 L488.3,473.9 L487.3,475.7 L486.3,477.5 L485.3,479.3 L484.3,481.0 L483.3,482.8 L482.3,484.6 L481.3,486.3 L480.3,488.1 L479.3,489.8 L478.3,491.5 L477.3,493.3 L476.3,495.0 L475.3,496.7 L474.3,498.4 L473.3,500.1 L472.3,501.8 L471.3,503.5 L470.3,505.2 L469.3,506.8 L468.3,508.5 L467.3,510.1 L466.3,511.8 L465.3,513.4 L464.3,515.0 L463.3,516.7 L462.3,518.3 L461.3,519.9 L460.3,521.5 L459.3,523.1 L458.3,524.6 L457.3,526.2 L456.3,527.8 L455.3,529.3 L454.3,530.8 L453.3,532.4 L452.3,533.9 L451.3,535.4 L450.3,536.9 L449.3,538.4 L448.3,539.9 L447.3,541.4 L446.3,542.8 L445.3,544.3 L444.3,545.8 L443.3,547.2 L442.3,548.6 L441.3,550.0 L440.3,551.5 L439.3,552.9 L438.3,554.2 L437.3,555.6 L436.3,557.0 L435.3,558.4 L434.3,559.7 L433.3,561.1 L432.3,562.4 L431.3,563.7 L430.3,565.1 L429.4,566.4 L428.4,567.7 L427.4,569.0 L426.4,570.2 L425.4,571.5 L424.4,572.8 L423.4,574.0 L422.4,575.3 L421.4,576.5 L420.4,577.7 L419.4,579.0 L418.4,580.2 L417.4,581.4 L416.4,582.6 L415.4,583.8 L414.4,584.9 L413.4,586.1 L412.4,587.3 L411.4,588.4 L410.4,589.6 L409.4,590.7 L408.4,591.9 L407.4,593.0 L406.4,594.1 L405.4,595.2 L404.4,596.4 L403.4,597.5 L402.4,598.5 L401.4,599.6 L400.4,600.7 L399.4,601.8 L398.4,602.8 L397.4,603.9 L396.4,605.0 L395.4,606.0 L394.4,607.0 L393.4,608.1 L392.4,609.1 L391.4,610.1 L390.4,611.1 L389.4,612.1 L388.4,613.0 L387.4,614.0 L386.5,615.0 L385.5,615.9 L384.5,616.9 L383.5,617.8 L382.5,618.7 L381.5,619.6 L380.5,620.5 L379.5,621.4 L378.5,622.3 L377.5,623.2 L376.5,624.0 L375.5,624.9 L374.5,625.7 L373.5,626.5 L372.5,627.4 L371.5,628.2 L370.5,629.0 L369.5,629.7 L368.5,630.5 L367.5,631.3 L366.5,632.0 L365.5,632.8 L364.5,633.5 L363.5,634.2 L362.5,635.0 L361.6,635.7 L360.6,636.4 L359.6,637.0 L358.6,637.7 L357.6,638.4 L356.6,639.1 L355.6,639.7 L354.6,640.4 L353.6,641.0 L352.6,641.6 L351.6,642.2 L350.6,642.9 L349.6,643.5 L348.6,644.0 L347.6,644.6 L346.6,645.2 L345.6,645.8 L344.6,646.3 L343.7,646.9 L342.7,647.5 L341.7,648.0 L340.7,648.5 L339.7,649.0 L338.7,649.6 L337.7,650.1 L336.7,650.6 L335.7,651.1 L334.7,651.6 L333.7,652.1 L332.7,652.5 L331.7,653.0 L330.7,653.5 L329.8,653.9 L328.8,654.4 L327.8,654.8 L326.8,655.2 L325.8,655.7 L324.8,656.1 L323.8,656.5 L322.8,656.9 L321.8,657.3 L320.8,657.7 L319.8,658.1 L318.8,658.5 L317.8,658.9 L316.8,659.3 L315.9,659.6 L314.9,660.0 L313.9,660.3 L312.9,660.7 L311.9,661.0 L310.9,661.4 L309.9,661.7 L308.9,662.0 L307.9,662.4 L306.9,662.7 L305.9,663.0 L304.9,663.3 L303.9,663.6 L302.9,663.9 L302.0,664.2 L301.0,664.5 L300.0,664.8 L299.0,665.0 L298.0,665.3 L297.0,665.6 L296.0,665.8 L295.0,666.1 L294.0,666.4 L293.0,666.6 L292.0,666.9 L291.0,667.1 L290.0,667.3 L289.0,667.6 L288.0,667.8 L287.0,668.0 L286.1,668.3 L285.1,668.5 L284.1,668.7 L283.1,668.9 L282.1,669.1 L281.1,669.3 L280.1,669.5 L279.1,669.7 L278.1,669.9 L277.1,670.1 L276.1,670.3 L275.1,670.4 L274.1,670.6 L273.1,670.8 L272.1,670.9 L271.1,671.1 L270.2,671.3 L269.2,671.4 L268.2,671.6 L267.2,671.7 L266.2,671.8 L265.2,672.0 L264.2,672.1 L263.2,672.2 L262.2,672.4 L261.2,672.5 L260.2,672.6 L259.2,672.7 L258.2,672.8 L257.2,672.9 L256.2,673.0 L255.2,673.1 L254.2,673.2 L253.2,673.3 L252.3,673.4 L251.3,673.5 L250.3,673.6 L249.3,673.7 L248.3,673.8 L247.3,673.8 L246.3,673.9 L245.3,674.0 L244.3,674.0 L243.3,674.1 L242.3,674.2 L241.3,674.2 L240.3,674.3 L239.3,674.3 L238.3,674.4 L237.3,674.4 L236.3,674.5 L235.3,674.5 L234.3,674.6 L233.3,674.6 L232.3,674.6 L231.3,674.7 L230.3,674.7 L229.4,674.7 L228.4,674.8 L227.4,674.8 L226.4,674.8 L225.4,674.8 L224.4,674.9 L223.4,674.9 L222.4,674.9 L221.4,674.9 L220.4,674.9 L219.4,674.9 L218.4,675.0 L217.4,675.0 L216.4,675.0 L215.4,675.0 L214.4,675.0 L213.4,675.0 L212.4,675.0 L211.4,675.0 L210.4,675.0 L209.4,675.0 L208.4,675.0 L207.4,675.0 L206.4,675.0 L205.4,675.0 L204.4,675.0 L203.4,675.0 L202.4,675.0 L201.4,675.0 L200.4,675.0 L199.4,675.0 L198.4,675.0 L197.4,675.0 L196.4,675.0 L195.4,675.0 L194.4,675.0 L193.4,675.0 L192.4,675.0 L191.4,675.0 L190.4,675.0 L189.4,675.0 L188.4,675.0 L187.4,675.0 L186.4,675.0 L185.4,675.0 L184.4,674.9 L183.4,674.9 L182.4,674.9 L181.4,674.9 L180.4,674.9 L179.4,674.8 L178.4,674.8 L177.4,674.8 L176.5,674.8 L175.5,674.7 L174.5,674.7 L173.5,674.7 L172.5,674.6 L171.5,674.6 L170.5,674.5 L169.5,674.5 L168.5,674.4 L167.5,674.4 L166.5,674.3 L165.5,674.3 L164.5,674.2 L163.5,674.2 L162.5,674.1 L161.5,674.1 L160.5,674.0 L159.5,673.9 L158.5,673.9 L157.5,673.8 L156.5,673.7 L155.5,673.6 L154.5,673.6 L153.5,673.5 L152.5,673.4 L151.5,673.3 L150.5,673.2 L149.5,673.2 L148.5,673.1 L147.5,673.0 L146.5,672.9 L145.6,672.8 L144.6,672.7 L143.6,672.6 L142.6,672.5 L141.6,672.4 L140.6,672.3 L139.6,672.2 Z" fill="#000" stroke="none"/>
<clipPath id="pc"><rect x="135.5" y="0" width="1420" height="990"/></clipPath>
<g fill="#ff0000" clip-path="url(#pc)"><rect x="131.4" y="670.0" width="16.0" height="15.2"/><rect x="137.0" y="663.7" width="16.0" height="15.2"/><rect x="142.6" y="659.7" width="16.0" height="15.2"/><rect x="148.2" y="664.8" width="16.0" height="15.2"/><rect x="153.7" y="666.7" width="16.0" height="15.2"/><rect x="159.3" y="659.7" width="16.0" height="15.2"/><rect x="164.9" y="687.2" width="16.0" height="15.2"/><rect x="170.5" y="668.2" width="16.0" height="15.2"/><rect x="176.1" y="668.2" width="16.0" height="15.2"/><rect x="181.7" y="668.2" width="16.0" height="15.2"/><rect x="187.2" y="684.8" width="16.0" height="15.2"/><rect x="192.8" y="670.4" width="16.0" height="15.2"/><rect x="198.4" y="677.7" width="16.0" height="15.2"/><rect x="204.0" y="656.6" width="16.0" height="15.2"/><rect x="209.6" y="678.7" width="16.0" height="15.2"/><rect x="215.2" y="665.8" width="16.0" height="15.2"/><rect x="220.7" y="668.0" width="16.0" height="15.2"/><rect x="231.9" y="684.8" width="16.0" height="15.2"/><rect x="237.5" y="656.6" width="16.0" height="15.2"/><rect x="243.1" y="670.4" width="16.0" height="15.2"/><rect x="248.8" y="665.5" width="16.0" height="15.2"/><rect x="254.2" y="660.7" width="16.0" height="15.2"/><rect x="259.8" y="670.4" width="16.0" height="15.2"/><rect x="265.4" y="660.7" width="16.0" height="15.2"/><rect x="271.1" y="669.8" width="16.0" height="15.2"/><rect x="276.7" y="665.3" width="16.0" height="15.2"/><rect x="282.3" y="665.3" width="16.0" height="15.2"/><rect x="287.8" y="652.4" width="16.0" height="15.2"/><rect x="293.4" y="664.1" width="16.0" height="15.2"/><rect x="299.0" y="646.3" width="16.0" height="15.2"/><rect x="304.6" y="650.7" width="16.0" height="15.2"/><rect x="310.2" y="636.0" width="16.0" height="15.2"/><rect x="315.7" y="619.5" width="16.0" height="15.2"/><rect x="321.3" y="650.0" width="16.0" height="15.2"/><rect x="326.9" y="650.0" width="16.0" height="15.2"/><rect x="332.5" y="621.1" width="16.0" height="15.2"/><rect x="338.1" y="633.6" width="16.0" height="15.2"/><rect x="343.7" y="628.7" width="16.0" height="15.2"/><rect x="349.3" y="631.7" width="16.0" height="15.2"/><rect x="354.8" y="607.0" width="16.0" height="15.2"/><rect x="360.4" y="607.0" width="16.0" height="15.2"/><rect x="366.0" y="622.3" width="16.0" height="15.2"/><rect x="371.6" y="622.3" width="16.0" height="15.2"/><rect x="377.2" y="599.7" width="16.0" height="15.2"/><rect x="382.7" y="611.4" width="16.0" height="15.2"/><rect x="388.3" y="594.8" width="16.0" height="15.2"/><rect x="393.9" y="597.0" width="16.0" height="15.2"/><rect x="399.5" y="600.7" width="16.0" height="15.2"/><rect x="405.1" y="604.1" width="16.0" height="15.2"/><rect x="410.7" y="604.1" width="16.0" height="15.2"/><rect x="416.2" y="595.4" width="16.0" height="15.2"/><rect x="421.8" y="575.7" width="16.0" height="15.2"/><rect x="427.4" y="557.4" width="16.0" height="15.2"/><rect x="433.1" y="520.9" width="16.0" height="15.2"/><rect x="438.6" y="536.5" width="16.0" height="15.2"/><rect x="441.4" y="521.2" width="16.0" height="15.2"/><rect x="444.2" y="536.5" width="16.0" height="15.2"/><rect x="449.8" y="520.9" width="16.0" height="15.2"/><rect x="455.4" y="493.8" width="16.0" height="15.2"/><rect x="461.0" y="495.0" width="16.0" height="15.2"/><rect x="466.6" y="540.2" width="16.0" height="15.2"/><rect x="472.1" y="508.2" width="16.0" height="15.2"/><rect x="477.7" y="496.2" width="16.0" height="15.2"/><rect x="483.3" y="470.0" width="16.0" height="15.2"/><rect x="488.9" y="470.0" width="16.0" height="15.2"/><rect x="494.5" y="481.6" width="16.0" height="15.2"/><rect x="500.0" y="421.3" width="16.0" height="15.2"/><rect x="505.6" y="446.3" width="16.0" height="15.2"/><rect x="511.2" y="441.4" width="16.0" height="15.2"/><rect x="516.9" y="387.2" width="16.0" height="15.2"/><rect x="522.3" y="406.1" width="16.0" height="15.2"/><rect x="527.9" y="406.1" width="16.0" height="15.2"/><rect x="533.5" y="387.2" width="16.0" height="15.2"/><rect x="539.2" y="344.6" width="16.0" height="15.2"/><rect x="545.7" y="367.7" width="16.0" height="15.2"/><rect x="549.4" y="329.9" width="16.0" height="15.2"/><rect x="555.9" y="345.8" width="16.0" height="15.2"/><rect x="562.2" y="294.0" width="16.0" height="15.2"/><rect x="565.6" y="345.8" width="16.0" height="15.2"/><rect x="572.7" y="290.9" width="16.0" height="15.2"/><rect x="573.4" y="282.4" width="16.0" height="15.2"/><rect x="578.3" y="305.0" width="16.0" height="15.2"/><rect x="578.6" y="310.7" width="16.0" height="15.2"/><rect x="583.8" y="289.7" width="16.0" height="15.2"/><rect x="589.3" y="267.2" width="16.0" height="15.2"/><rect x="595.7" y="299.5" width="16.0" height="15.2"/><rect x="600.3" y="275.7" width="16.0" height="15.2"/><rect x="604.5" y="242.2" width="16.0" height="15.2"/><rect x="611.2" y="262.3" width="16.0" height="15.2"/><rect x="616.1" y="196.5" width="16.0" height="15.2"/><rect x="621.6" y="224.6" width="16.0" height="15.2"/><rect x="627.7" y="182.5" width="16.0" height="15.2"/><rect x="633.8" y="239.2" width="16.0" height="15.2"/><rect x="639.3" y="212.4" width="16.0" height="15.2"/><rect x="650.2" y="207.5" width="16.0" height="15.2"/><rect x="655.1" y="177.0" width="16.0" height="15.2"/><rect x="661.3" y="162.4" width="16.0" height="15.2"/><rect x="667.3" y="176.4" width="16.0" height="15.2"/><rect x="669.7" y="164.8" width="16.0" height="15.2"/><rect x="678.9" y="147.7" width="16.0" height="15.2"/><rect x="684.4" y="157.5" width="16.0" height="15.2"/><rect x="689.2" y="180.7" width="16.0" height="15.2"/><rect x="702.6" y="186.8" width="16.0" height="15.2"/><rect x="707.5" y="170.9" width="16.0" height="15.2"/><rect x="712.4" y="191.6" width="16.0" height="15.2"/><rect x="717.3" y="190.4" width="16.0" height="15.2"/><rect x="722.8" y="188.0" width="16.0" height="15.2"/><rect x="727.0" y="196.5" width="16.0" height="15.2"/><rect x="734.4" y="196.5" width="16.0" height="15.2"/><rect x="739.9" y="227.6" width="16.0" height="15.2"/><rect x="745.3" y="205.0" width="16.0" height="15.2"/><rect x="751.4" y="236.7" width="16.0" height="15.2"/><rect x="757.5" y="252.6" width="16.0" height="15.2"/><rect x="757.6" y="259.6" width="16.0" height="15.2"/><rect x="762.4" y="221.5" width="16.0" height="15.2"/><rect x="767.9" y="251.9" width="16.0" height="15.2"/><rect x="772.8" y="270.5" width="16.0" height="15.2"/><rect x="778.3" y="302.2" width="16.0" height="15.2"/><rect x="784.4" y="287.0" width="16.0" height="15.2"/><rect x="789.9" y="333.9" width="16.0" height="15.2"/><rect x="795.4" y="301.6" width="16.0" height="15.2"/><rect x="800.9" y="323.6" width="16.0" height="15.2"/><rect x="807.6" y="312.6" width="16.0" height="15.2"/><rect x="811.9" y="381.4" width="16.0" height="15.2"/><rect x="817.3" y="379.0" width="16.0" height="15.2"/><rect x="824.0" y="359.5" width="16.0" height="15.2"/><rect x="828.9" y="417.4" width="16.0" height="15.2"/><rect x="835.0" y="389.3" width="16.0" height="15.2"/><rect x="841.7" y="395.4" width="16.0" height="15.2"/><rect x="846.0" y="441.1" width="16.0" height="15.2"/><rect x="852.1" y="410.7" width="16.0" height="15.2"/><rect x="858.2" y="447.8" width="16.0" height="15.2"/><rect x="863.7" y="472.8" width="16.0" height="15.2"/><rect x="868.2" y="504.7" width="16.0" height="15.2"/><rect x="874.3" y="532.1" width="16.0" height="15.2"/><rect x="882.8" y="502.3" width="16.0" height="15.2"/><rect x="888.9" y="533.3" width="16.0" height="15.2"/><rect x="896.2" y="523.6" width="16.0" height="15.2"/><rect x="902.9" y="552.8" width="16.0" height="15.2"/><rect x="913.9" y="560.2" width="16.0" height="15.2"/><rect x="926.1" y="568.7" width="16.0" height="15.2"/><rect x="928.5" y="558.9" width="16.0" height="15.2"/><rect x="935.8" y="571.1" width="16.0" height="15.2"/><rect x="943.2" y="576.0" width="16.0" height="15.2"/><rect x="951.7" y="598.5" width="16.0" height="15.2"/><rect x="954.1" y="579.7" width="16.0" height="15.2"/><rect x="955.7" y="598.4" width="16.0" height="15.2"/><rect x="963.3" y="572.3" width="16.0" height="15.2"/><rect x="968.8" y="594.3" width="16.0" height="15.2"/><rect x="974.8" y="585.7" width="16.0" height="15.2"/><rect x="985.8" y="595.5" width="16.0" height="15.2"/><rect x="993.1" y="610.1" width="16.0" height="15.2"/><rect x="1000.8" y="602.1" width="16.0" height="15.2"/><rect x="1004.1" y="604.0" width="16.0" height="15.2"/><rect x="1012.9" y="613.1" width="16.0" height="15.2"/><rect x="1015.1" y="606.5" width="16.0" height="15.2"/><rect x="1021.5" y="599.7" width="16.0" height="15.2"/><rect x="1029.7" y="596.7" width="16.0" height="15.2"/><rect x="1036.1" y="599.7" width="16.0" height="15.2"/><rect x="1039.4" y="582.1" width="16.0" height="15.2"/><rect x="1042.8" y="583.8" width="16.0" height="15.2"/><rect x="1048.3" y="561.9" width="16.0" height="15.2"/><rect x="1054.4" y="539.9" width="16.0" height="15.2"/><rect x="1064.1" y="552.1" width="16.0" height="15.2"/><rect x="1069.0" y="496.1" width="16.0" height="15.2"/><rect x="1073.9" y="538.7" width="16.0" height="15.2"/><rect x="1080.0" y="499.7" width="16.0" height="15.2"/><rect x="1086.3" y="438.6" width="16.0" height="15.2"/><rect x="1092.4" y="430.7" width="16.0" height="15.2"/><rect x="1097.3" y="455.6" width="16.0" height="15.2"/><rect x="1104.4" y="347.9" width="16.0" height="15.2"/><rect x="1113.5" y="339.4" width="16.0" height="15.2"/><rect x="1119.0" y="322.3" width="16.0" height="15.2"/><rect x="1123.9" y="227.3" width="16.0" height="15.2"/><rect x="1131.2" y="234.6" width="16.0" height="15.2"/><rect x="1136.1" y="271.2" width="16.0" height="15.2"/><rect x="1142.3" y="200.8" width="16.0" height="15.2"/><rect x="1147.8" y="137.7" width="16.0" height="15.2"/><rect x="1153.2" y="120.4" width="16.0" height="15.2"/><rect x="1158.1" y="80.6" width="16.0" height="15.2"/><rect x="1164.9" y="59.7" width="16.0" height="15.2"/><rect x="1170.8" y="80.2" width="16.0" height="15.2"/><rect x="1176.1" y="101.6" width="16.0" height="15.2"/><rect x="1180.5" y="54.8" width="16.0" height="15.2"/><rect x="1190.3" y="27.5" width="16.0" height="15.2"/><rect x="1205.9" y="44.1" width="16.0" height="15.2"/><rect x="1214.6" y="46.0" width="16.0" height="15.2"/><rect x="1219.5" y="84.5" width="16.0" height="15.2"/><rect x="1226.8" y="107.5" width="16.0" height="15.2"/><rect x="1232.4" y="143.2" width="16.0" height="15.2"/><rect x="1237.0" y="173.8" width="16.0" height="15.2"/><rect x="1242.8" y="208.1" width="16.0" height="15.2"/><rect x="1248.3" y="322.2" width="16.0" height="15.2"/><rect x="1253.8" y="291.1" width="16.0" height="15.2"/><rect x="1259.3" y="333.2" width="16.0" height="15.2"/><rect x="1264.8" y="380.7" width="16.0" height="15.2"/><rect x="1270.0" y="423.1" width="16.0" height="15.2"/><rect x="1275.5" y="467.6" width="16.0" height="15.2"/><rect x="1282.1" y="515.3" width="16.0" height="15.2"/><rect x="1287.0" y="564.1" width="16.0" height="15.2"/><rect x="1292.0" y="662.4" width="16.0" height="15.2"/><rect x="1297.9" y="626.2" width="16.0" height="15.2"/><rect x="1310.3" y="666.0" width="16.0" height="15.2"/><rect x="1315.1" y="686.7" width="16.0" height="15.2"/><rect x="1321.2" y="703.8" width="16.0" height="15.2"/><rect x="1326.7" y="724.5" width="16.0" height="15.2"/><rect x="1331.6" y="714.8" width="16.0" height="15.2"/><rect x="1338.0" y="806.1" width="16.0" height="15.2"/><rect x="1343.2" y="752.6" width="16.0" height="15.2"/><rect x="1349.3" y="744.0" width="16.0" height="15.2"/><rect x="1355.3" y="747.7" width="16.0" height="15.2"/><rect x="1360.5" y="769.0" width="16.0" height="15.2"/><rect x="1365.4" y="786.0" width="16.0" height="15.2"/><rect x="1371.5" y="814.7" width="16.0" height="15.2"/><rect x="1377.6" y="792.1" width="16.0" height="15.2"/><rect x="1382.4" y="837.2" width="16.0" height="15.2"/><rect x="1388.5" y="772.0" width="16.0" height="15.2"/><rect x="1394.6" y="843.3" width="16.0" height="15.2"/><rect x="1400.1" y="790.3" width="16.0" height="15.2"/><rect x="1406.8" y="825.0" width="16.0" height="15.2"/><rect x="1411.7" y="809.2" width="16.0" height="15.2"/><rect x="1416.6" y="822.6" width="16.0" height="15.2"/><rect x="1425.7" y="808.6" width="16.0" height="15.2"/><rect x="1433.6" y="827.5" width="16.0" height="15.2"/><rect x="1442.2" y="833.6" width="16.0" height="15.2"/><rect x="1451.9" y="849.4" width="16.0" height="15.2"/><rect x="1460.4" y="817.7" width="16.0" height="15.2"/><rect x="1465.3" y="851.8" width="16.0" height="15.2"/><rect x="1468.0" y="819.4" width="16.0" height="15.2"/><rect x="1472.6" y="814.1" width="16.0" height="15.2"/><rect x="1477.5" y="820.4" width="16.0" height="15.2"/><rect x="1483.1" y="818.9" width="16.0" height="15.2"/><rect x="1488.5" y="812.8" width="16.0" height="15.2"/><rect x="1494.0" y="853.1" width="16.0" height="15.2"/><rect x="1499.8" y="810.4" width="16.0" height="15.2"/><rect x="1505.9" y="804.7" width="16.0" height="15.2"/><rect x="1511.0" y="816.4" width="16.0" height="15.2"/><rect x="1514.6" y="822.6" width="16.0" height="15.2"/><rect x="1521.9" y="808.7" width="16.0" height="15.2"/><rect x="1528.2" y="833.4" width="16.0" height="15.2"/></g>
<line x1="128.7" y1="19.5" x2="128.7" y2="992.7" stroke="#1a1a1a" stroke-width="3.2"/>
<line x1="127.5" y1="997.3" x2="1593.4" y2="997.3" stroke="#1a1a1a" stroke-width="3.2"/>
<line x1="1591.6" y1="993.5" x2="1591.6" y2="1025.2" stroke="#1a1a1a" stroke-width="3.2"/>
<line x1="1368.2" y1="993.5" x2="1368.2" y2="1025.2" stroke="#1a1a1a" stroke-width="3.2"/>
<line x1="1144.8" y1="993.5" x2="1144.8" y2="1025.2" stroke="#1a1a1a" stroke-width="3.2"/>
<line x1="921.4" y1="993.5" x2="921.4" y2="1025.2" stroke="#1a1a1a" stroke-width="3.2"/>
<line x1="697.9" y1="993.5" x2="697.9" y2="1025.2" stroke="#1a1a1a" stroke-width="3.2"/>
<line x1="474.5" y1="993.5" x2="474.5" y2="1025.2" stroke="#1a1a1a" stroke-width="3.2"/>
<line x1="251.1" y1="993.5" x2="251.1" y2="1025.2" stroke="#1a1a1a" stroke-width="3.2"/>
<text x="1592.3" y="1092.3" font-size="58.5" text-anchor="middle" font-family="Liberation Sans, Arial, Helvetica, sans-serif" stroke="#000" stroke-width="1.1" stroke-linejoin="round" fill="#000">96</text>
<text x="1368.9" y="1092.3" font-size="58.5" text-anchor="middle" font-family="Liberation Sans, Arial, Helvetica, sans-serif" stroke="#000" stroke-width="1.1" stroke-linejoin="round" fill="#000">98</text>
<text x="1145.5" y="1092.3" font-size="58.5" text-anchor="middle" font-family="Liberation Sans, Arial, Helvetica, sans-serif" stroke="#000" stroke-width="1.1" stroke-linejoin="round" fill="#000">100</text>
<text x="922.1" y="1092.3" font-size="58.5" text-anchor="middle" font-family="Liberation Sans, Arial, Helvetica, sans-serif" stroke="#000" stroke-width="1.1" stroke-linejoin="round" fill="#000">102</text>
<text x="698.6" y="1092.3" font-size="58.5" text-anchor="middle" font-family="Liberation Sans, Arial, Helvetica, sans-serif" stroke="#000" stroke-width="1.1" stroke-linejoin="round" fill="#000">104</text>
<text x="475.2" y="1092.3" font-size="58.5" text-anchor="middle" font-family="Liberation Sans, Arial, Helvetica, sans-serif" stroke="#000" stroke-width="1.1" stroke-linejoin="round" fill="#000">106</text>
<text x="251.8" y="1092.3" font-size="58.5" text-anchor="middle" font-family="Liberation Sans, Arial, Helvetica, sans-serif" stroke="#000" stroke-width="1.1" stroke-linejoin="round" fill="#000">108</text>
<text x="866.2" y="1170" font-size="59.4" text-anchor="middle" font-family="Liberation Sans, Arial, Helvetica, sans-serif" stroke="#000" stroke-width="1.1" stroke-linejoin="round" fill="#000">Binding Energy(eV)</text>
<text transform="translate(58.7,485.8) rotate(-90)" font-size="59.4" text-anchor="middle" font-family="Liberation Sans, Arial, Helvetica, sans-serif" stroke="#000" stroke-width="1.1" stroke-linejoin="round" fill="#000">Intensity (arb. un.)</text>
<text x="205.5" y="96.3" font-size="59.3" font-family="Liberation Sans, Arial, Helvetica, sans-serif" stroke="#000" stroke-width="1.1" stroke-linejoin="round" fill="#000">a-SiH Ref</text>
<text x="1479" y="53.4" font-size="39.5" font-family="Liberation Sans, Arial, Helvetica, sans-serif" stroke="#000" stroke-width="0.8" stroke-linejoin="round" fill="#000">Data</text>
<text x="1479" y="95.9" font-size="39.5" font-family="Liberation Sans, Arial, Helvetica, sans-serif" stroke="#000" stroke-width="0.8" stroke-linejoin="round" fill="#000">FitResult</text>
<text x="1479" y="141.3" font-size="39.5" font-family="Liberation Sans, Arial, Helvetica, sans-serif" stroke="#000" stroke-width="0.8" stroke-linejoin="round" fill="#000">Bck</text>
<text x="1479" y="186.7" font-size="39.5" font-family="Liberation Sans, Arial, Helvetica, sans-serif" stroke="#000" stroke-width="0.8" stroke-linejoin="round" fill="#000">Dis Si</text>
<text x="1479" y="229.6" font-size="39.5" font-family="Liberation Sans, Arial, Helvetica, sans-serif" stroke="#000" stroke-width="0.8" stroke-linejoin="round" fill="#000">Si-H</text>
<text x="1479" y="275" font-size="39.5" font-family="Liberation Sans, Arial, Helvetica, sans-serif" stroke="#000" stroke-width="0.8" stroke-linejoin="round" fill="#000">c Si-Si</text>
<text x="1479" y="320.5" font-size="39.5" font-family="Liberation Sans, Arial, Helvetica, sans-serif" stroke="#000" stroke-width="0.8" stroke-linejoin="round" fill="#000">Si-C</text>
<text x="1479" y="363.7" font-size="39.5" font-family="Liberation Sans, Arial, Helvetica, sans-serif" stroke="#000" stroke-width="0.8" stroke-linejoin="round" fill="#000">Si-O</text>
<g>
<path d="M1414,27.3 H1439.4 V56.6 H1414 L1411.3,53.9 V30 Z" fill="#ff0000"/>
<line x1="1388.2" y1="87.3" x2="1462.2" y2="87.3" stroke="#000" stroke-width="5"/>
<line x1="1388.2" y1="131.9" x2="1462.2" y2="131.9" stroke="#222" stroke-width="2.7"/>
<rect x="1408.3" y="164.7" width="36.8" height="22.8" fill="#0000ff"/>
<path d="M1408.3,207.3 H1442 L1445.6,211 V232.9 H1408.3 Z" fill="#008000"/>
<rect x="1408.3" y="252.8" width="36.8" height="25.6" fill="#ff00ff"/>
<rect x="1408.3" y="299" width="36.8" height="21.8" fill="#999999"/>
<line x1="1388.2" y1="354" x2="1462.2" y2="354" stroke="#00dd22" stroke-width="3.2"/>
</g>
</svg>
</body></html>
